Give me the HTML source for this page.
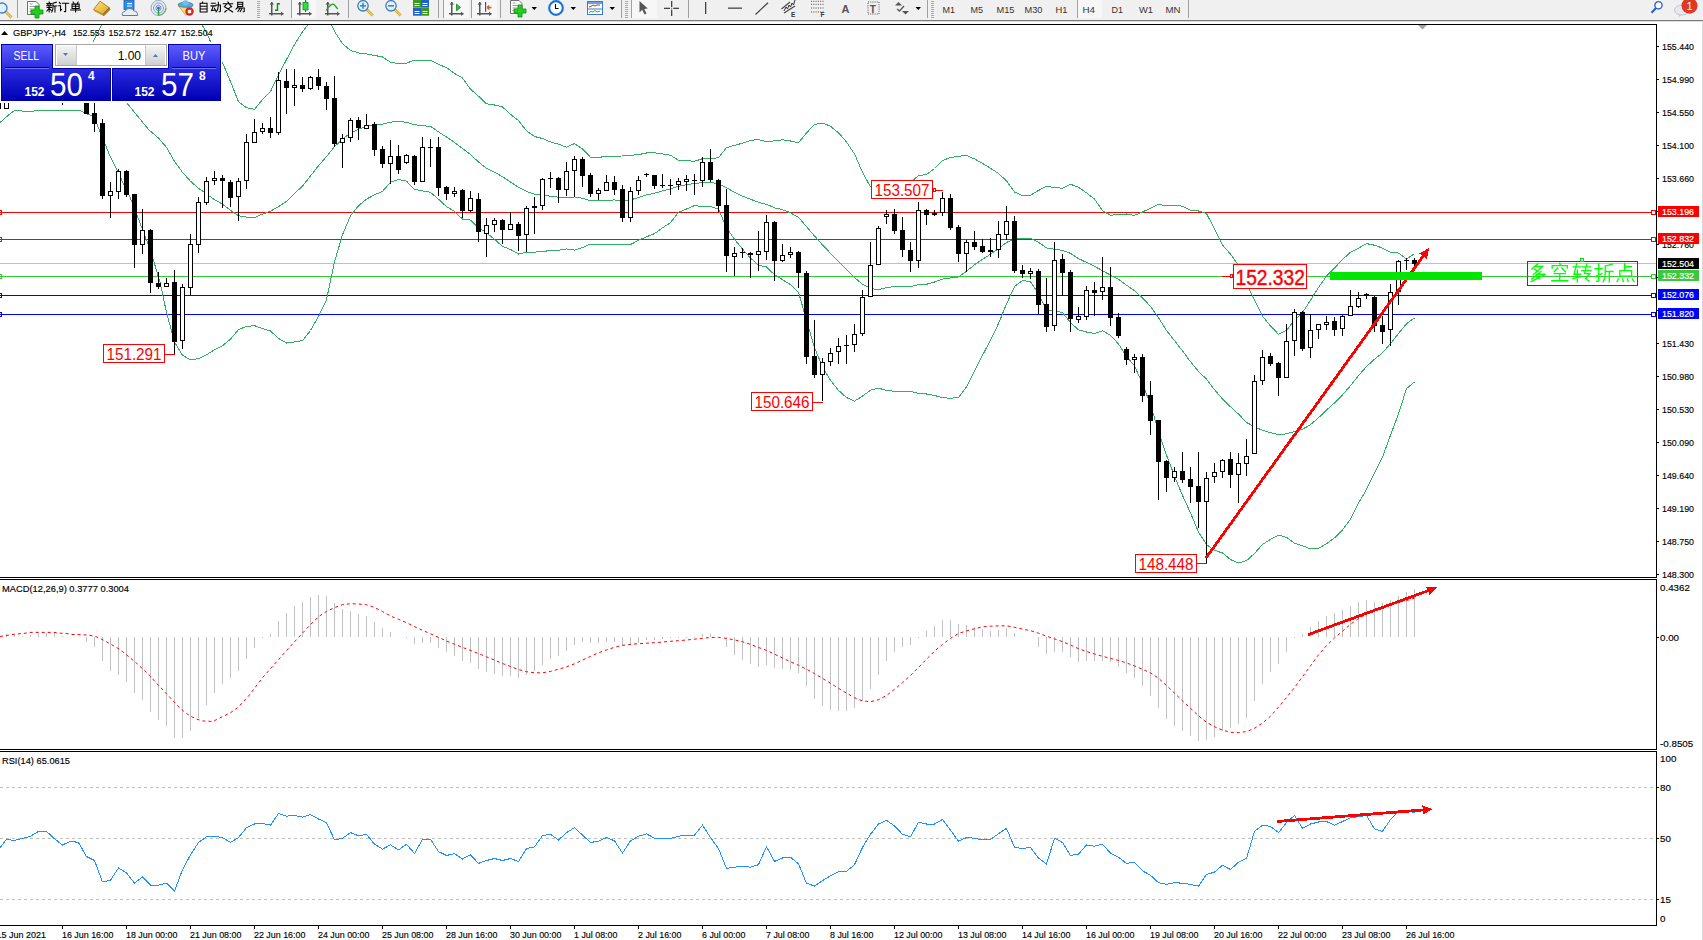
<!DOCTYPE html>
<html><head><meta charset="utf-8"><style>html,body{margin:0;padding:0;width:1703px;height:940px;overflow:hidden;background:#fff}svg{display:block}</style></head>
<body><svg width="1703" height="940" viewBox="0 0 1703 940" font-family='"Liberation Sans", sans-serif'><defs><clipPath id="mainclip"><rect x="0" y="25" width="1656" height="552"/></clipPath></defs><rect width="1703" height="940" fill="#fff"/><rect x="0" y="0" width="1703" height="20" fill="#f0f0f0"/>
<rect x="0" y="20" width="1703" height="1.5" fill="#7a7a7a"/>
<rect x="0" y="21.5" width="1703" height="2.5" fill="#fff"/>
<line x1="5.0" y1="11.0" x2="11.5" y2="17.5" stroke="#c89a20" stroke-width="2.6"/>
<line x1="5.0" y1="11.0" x2="11.5" y2="17.5" stroke="#f0d860" stroke-width="1.2"/>
<circle cx="2" cy="8" r="5" fill="#dff2fb" stroke="#3d7cc4" stroke-width="1.3"/>
<rect x="17" y="0" width="1" height="18" fill="#a0a0a0"/>
<path d="M27.5,1.5 H36 L39,4.5 V14.5 H27.5 Z" fill="#fff" stroke="#707070" stroke-width="1"/>
<rect x="29.5" y="3.5" width="3" height="1" fill="#9a9a9a"/>
<rect x="29.5" y="6.0" width="7" height="1" fill="#9a9a9a"/>
<rect x="29.5" y="8.5" width="6" height="1" fill="#9a9a9a"/>
<rect x="29.5" y="11.0" width="7" height="1" fill="#9a9a9a"/>
<path d="M35,6 h4 v4 h4 v4 h-4 v4 h-4 v-4 h-4 v-4 h4 Z" fill="#20d020" stroke="#109010" stroke-width="0.8"/>
<path transform="translate(46.50,1.80) scale(1.020)" d="M2.5,0.2 L3,1.2 M0.4,1.8 H4.8 M1.2,2.3 L1.7,3.5 M3.9,2.3 L3.4,3.5 M0.2,3.9 H5 M0.6,5.6 H4.8 M2.6,3.9 V10 M2.4,6.6 L0.3,9 M2.9,6.8 L4.6,8.4 M9.6,0.4 L6.3,1.5 M6.3,1.5 V6 Q6.2,8.5 5.2,10 M6.3,4.2 H10 M8.3,4.2 V10" fill="none" stroke="#000" stroke-width="1.029" stroke-linecap="square"/>
<path transform="translate(58.50,1.80) scale(1.020)" d="M0.8,0.6 L1.8,1.8 M0.2,3.9 H2 V8.6 L3.1,7.5 M3.8,1.5 H10 M7,1.5 V9.4 Q7,10 5.8,9.6" fill="none" stroke="#000" stroke-width="1.029" stroke-linecap="square"/>
<path transform="translate(70.50,1.80) scale(1.020)" d="M2.5,0.2 L3.3,1.4 M7.5,0.2 L6.7,1.4 M1.5,2.3 H8.5 V6.6 H1.5 Z M1.5,4.45 H8.5 M5,2.3 V10 M0.2,8.1 H9.8" fill="none" stroke="#000" stroke-width="1.029" stroke-linecap="square"/>
<defs><linearGradient id="gbook" x1="0" y1="0" x2="1" y2="1"><stop offset="0" stop-color="#fbe884"/><stop offset="1" stop-color="#d9a21e"/></linearGradient></defs>
<polygon points="93.5,9.5 100,1.2 109.2,7.6 103,14.2" fill="url(#gbook)" stroke="#b07a18" stroke-width="0.9"/>
<polygon points="103,14.2 109.2,7.6 110,9.5 103.6,16" fill="#b07820" stroke="#8a5a10" stroke-width="0.6"/>
<polygon points="93.5,9.5 103,14.2 103.6,16 94,11" fill="#c89030"/>
<rect x="124" y="0.5" width="10" height="9" fill="#2a8ee8" stroke="#1a60b0" stroke-width="0.8"/>
<rect x="127" y="3" width="5" height="1.2" fill="#fff"/><rect x="127" y="5.5" width="5" height="1.2" fill="#cfe6ff"/>
<path d="M122.5,15.5 Q121.5,11.5 125,11.5 Q126,8 130,8.5 Q133,8.5 134,11 Q138,11 137.5,15.5 Z" fill="#e8eef6" stroke="#6078a8" stroke-width="1"/>
<circle cx="158.5" cy="8" r="7.5" fill="none" stroke="#5a84d0" stroke-width="1" opacity="0.7"/>
<circle cx="158.5" cy="8" r="5" fill="none" stroke="#5a84d0" stroke-width="1" opacity="0.8"/>
<circle cx="158.5" cy="8" r="2.6" fill="none" stroke="#5a84d0" stroke-width="1" opacity="1"/>
<path d="M158.5,8 V15.5" stroke="#20a020" stroke-width="1.3"/><circle cx="158.5" cy="8" r="1.3" fill="#1f5fcf"/>
<path d="M159,15 A7.5,7.5 0 0 0 166,8" fill="none" stroke="#60b060" stroke-width="1.2"/>
<polygon points="178.5,6 192.5,6 186,15.5" fill="#f2df6a" stroke="#c8a030" stroke-width="0.8"/>
<ellipse cx="185.5" cy="4.8" rx="7.5" ry="2.5" fill="#58aee0" stroke="#2a78b0" stroke-width="0.8"/>
<ellipse cx="185.5" cy="2.6" rx="3" ry="2.4" fill="#70c0ec"/>
<circle cx="189.5" cy="11.5" r="4.2" fill="#d92020"/><rect x="187.8" y="9.8" width="3.4" height="3.4" fill="#fff"/>
<path transform="translate(198.50,1.80) scale(1.020)" d="M4.2,0.1 L3.6,1.5 M1.6,1.5 H8.4 V10 H1.6 Z M1.6,4.3 H8.4 M1.6,7.1 H8.4" fill="none" stroke="#000" stroke-width="1.029" stroke-linecap="square"/>
<path transform="translate(210.70,1.80) scale(1.020)" d="M0.6,1.5 H4.5 M0.2,4 H5 M2.6,4 L0.8,8.6 L4.6,8 M3.6,6.4 L4.9,8.9 M5.4,3.2 H9.5 V9 Q9.5,10 8.4,9.7 M7.5,0.4 V3.5 Q7.3,8 5.3,10" fill="none" stroke="#000" stroke-width="1.029" stroke-linecap="square"/>
<path transform="translate(222.90,1.80) scale(1.020)" d="M4.8,0.1 L5.5,1.1 M0.4,2 H9.6 M3.3,2.8 L1.4,4.8 M6.7,2.8 L8.6,4.8 M7.6,5 L1.8,10 M2.4,5.4 L9.6,10" fill="none" stroke="#000" stroke-width="1.029" stroke-linecap="square"/>
<path transform="translate(235.10,1.80) scale(1.020)" d="M2.5,0.4 H7.5 V4.6 H2.5 Z M2.5,2.5 H7.5 M3.2,4.6 L0.9,7.2 M2.5,6 H9 V9 Q9,10 7.9,9.8 M5,6 L2.8,9.6 M7,6 L5.1,9.6" fill="none" stroke="#000" stroke-width="1.029" stroke-linecap="square"/>
<rect x="257" y="1" width="3" height="1" fill="#a8a8a8"/><rect x="257" y="3" width="3" height="1" fill="#a8a8a8"/><rect x="257" y="5" width="3" height="1" fill="#a8a8a8"/><rect x="257" y="7" width="3" height="1" fill="#a8a8a8"/><rect x="257" y="9" width="3" height="1" fill="#a8a8a8"/><rect x="257" y="11" width="3" height="1" fill="#a8a8a8"/><rect x="257" y="13" width="3" height="1" fill="#a8a8a8"/><rect x="257" y="15" width="3" height="1" fill="#a8a8a8"/><rect x="257" y="17" width="3" height="1" fill="#a8a8a8"/>
<rect x="271" y="2" width="1.5" height="13.5" fill="#555"/>
<polygon points="269.5,4.5 271.75,2 274,4.5" fill="#555"/>
<rect x="269" y="13" width="14.5" height="1.5" fill="#555"/>
<polygon points="281.0,11.5 283.5,13.75 281.0,16" fill="#555"/>
<path d="M275,10.3 H277.5 V3.8 H280" fill="none" stroke="#118811" stroke-width="1.4"/>
<rect x="291" y="0" width="1" height="18" fill="#a0a0a0"/>
<rect x="292" y="0" width="24" height="18" fill="#f7f7f7"/>
<rect x="299" y="2" width="1.5" height="13.5" fill="#555"/>
<polygon points="297.5,4.5 299.75,2 302,4.5" fill="#555"/>
<rect x="297" y="13" width="14.5" height="1.5" fill="#555"/>
<polygon points="309.0,11.5 311.5,13.75 309.0,16" fill="#555"/>
<rect x="305" y="0" width="1.2" height="12" fill="#118811"/><rect x="303" y="2.5" width="5" height="7.3" fill="#2ee04a" stroke="#129a2a" stroke-width="0.9"/>
<rect x="327" y="2" width="1.5" height="13.5" fill="#555"/>
<polygon points="325.5,4.5 327.75,2 330,4.5" fill="#555"/>
<rect x="325" y="13" width="14.5" height="1.5" fill="#555"/>
<polygon points="337.0,11.5 339.5,13.75 337.0,16" fill="#555"/>
<path d="M326,10.5 Q332,2 334.5,5 L337.8,9" fill="none" stroke="#2a9a2a" stroke-width="1.2"/>
<rect x="348" y="0" width="1" height="18" fill="#a0a0a0"/>
<line x1="366.12" y1="8.92" x2="372.7" y2="15.5" stroke="#c89a20" stroke-width="2.6"/>
<line x1="366.12" y1="8.92" x2="372.7" y2="15.5" stroke="#f0d860" stroke-width="1.2"/>
<circle cx="363" cy="5.8" r="5.2" fill="#dff2fb" stroke="#3d7cc4" stroke-width="1.3"/>
<rect x="360" y="5.0" width="6" height="1.6" fill="#4a86b8"/><rect x="362.2" y="2.8" width="1.6" height="6" fill="#4a86b8"/>
<line x1="394.12" y1="8.92" x2="400.7" y2="15.5" stroke="#c89a20" stroke-width="2.6"/>
<line x1="394.12" y1="8.92" x2="400.7" y2="15.5" stroke="#f0d860" stroke-width="1.2"/>
<circle cx="391" cy="5.8" r="5.2" fill="#dff2fb" stroke="#3d7cc4" stroke-width="1.3"/>
<rect x="388" y="5.0" width="6" height="1.6" fill="#4a86b8"/>
<rect x="413" y="0" width="8" height="7.7" fill="#3a9a20"/><rect x="414.5" y="3" width="5" height="1" fill="#fff"/><rect x="414.5" y="5" width="5" height="1" fill="#fff"/>
<rect x="421" y="0" width="8" height="7.7" fill="#2060d0"/><rect x="422.5" y="3" width="5" height="1" fill="#fff"/><rect x="422.5" y="5" width="5" height="1" fill="#fff"/>
<rect x="413" y="8" width="8" height="7.7" fill="#2060d0"/><rect x="414.5" y="11" width="5" height="1" fill="#fff"/><rect x="414.5" y="13" width="5" height="1" fill="#fff"/>
<rect x="421" y="8" width="8" height="7.7" fill="#3a9a20"/><rect x="422.5" y="11" width="5" height="1" fill="#fff"/><rect x="422.5" y="13" width="5" height="1" fill="#fff"/>
<rect x="438" y="0" width="1" height="18" fill="#a0a0a0"/>
<rect x="443" y="0" width="1" height="18" fill="#a0a0a0"/>
<rect x="444" y="0" width="25" height="18" fill="#f7f7f7"/>
<rect x="451" y="2" width="1.5" height="13.5" fill="#555"/>
<polygon points="449.5,4.5 451.75,2 454,4.5" fill="#555"/>
<rect x="449" y="13" width="14.5" height="1.5" fill="#555"/>
<polygon points="461.0,11.5 463.5,13.75 461.0,16" fill="#555"/>
<polygon points="456.5,4 460.5,7.5 456.5,10.8" fill="#2cc04a" stroke="#108a20" stroke-width="0.8"/>
<rect x="471" y="0" width="1" height="18" fill="#a0a0a0"/>
<rect x="472" y="0" width="25" height="18" fill="#f7f7f7"/>
<rect x="479" y="2" width="1.5" height="13.5" fill="#555"/>
<polygon points="477.5,4.5 479.75,2 482,4.5" fill="#555"/>
<rect x="477" y="13" width="14.5" height="1.5" fill="#555"/>
<polygon points="489.0,11.5 491.5,13.75 489.0,16" fill="#555"/>
<rect x="485" y="2" width="1.2" height="9.8" fill="#2060a0"/><path d="M487,7.5 H491.5 M487,7.5 L489.3,5.5 M487,7.5 L489.3,9.5" stroke="#e05a10" stroke-width="1.3" fill="none"/>
<rect x="500" y="0" width="1" height="18" fill="#a0a0a0"/>
<path d="M510.5,0.5 H519 L522,3.5 V13.5 H510.5 Z" fill="#fff" stroke="#707070" stroke-width="1"/>
<rect x="512.5" y="2.5" width="3" height="1" fill="#9a9a9a"/>
<rect x="512.5" y="5.0" width="7" height="1" fill="#9a9a9a"/>
<rect x="512.5" y="7.5" width="6" height="1" fill="#9a9a9a"/>
<rect x="512.5" y="10.0" width="7" height="1" fill="#9a9a9a"/>
<path d="M518,5 h4 v4 h4 v4 h-4 v4 h-4 v-4 h-4 v-4 h4 Z" fill="#20d020" stroke="#109010" stroke-width="0.8"/>
<polygon points="531.5,7 537.0,7 534.25,10" fill="#000"/>
<circle cx="556" cy="8" r="6.8" fill="#fff" stroke="#1a76d8" stroke-width="2.2"/><path d="M555.5,4 V8.5 H558.5" stroke="#000" stroke-width="1.1" fill="none"/>
<polygon points="570.5,7 576.0,7 573.25,10" fill="#000"/>
<rect x="587.5" y="1.5" width="15" height="13" fill="#fff" stroke="#3a7ad0" stroke-width="1"/><rect x="588" y="2" width="14" height="2" fill="#6aa0e8"/><rect x="588" y="8.5" width="14" height="1" fill="#3a7ad0"/>
<path d="M589,7 L591,6.5 L593,5 L595,6 L597,5 L600,5" stroke="#b02010" stroke-width="0.9" fill="none"/><path d="M589,12.5 L591,11.5 L593,12 L595,10.5 L597,12 L600,11" stroke="#20a020" stroke-width="0.9" fill="none"/>
<polygon points="609.5,7 615.0,7 612.25,10" fill="#000"/>
<rect x="621" y="0" width="1" height="18" fill="#a0a0a0"/>
<rect x="625" y="1" width="3" height="1" fill="#a8a8a8"/><rect x="625" y="3" width="3" height="1" fill="#a8a8a8"/><rect x="625" y="5" width="3" height="1" fill="#a8a8a8"/><rect x="625" y="7" width="3" height="1" fill="#a8a8a8"/><rect x="625" y="9" width="3" height="1" fill="#a8a8a8"/><rect x="625" y="11" width="3" height="1" fill="#a8a8a8"/><rect x="625" y="13" width="3" height="1" fill="#a8a8a8"/><rect x="625" y="15" width="3" height="1" fill="#a8a8a8"/><rect x="625" y="17" width="3" height="1" fill="#a8a8a8"/>
<rect x="631" y="0" width="1" height="18" fill="#a0a0a0"/>
<rect x="632" y="0" width="25" height="18" fill="#f7f7f7"/>
<polygon points="639.5,1 639.5,12.5 642.2,9.8 644.5,14.5 646.5,13.6 644.2,8.9 647.8,8.6" fill="#555"/>
<rect x="671" y="1" width="1.3" height="15" fill="#444"/><rect x="664" y="7.7" width="15" height="1.3" fill="#444"/><rect x="670" y="7" width="3.3" height="2.6" fill="#f0f0f0"/><rect x="671" y="7.7" width="1.3" height="1.3" fill="#888"/>
<rect x="688" y="0" width="1" height="18" fill="#a0a0a0"/>
<rect x="705" y="2" width="1.3" height="12" fill="#444"/>
<rect x="728" y="7.5" width="14" height="1.3" fill="#444"/>
<line x1="755.5" y1="14.5" x2="768" y2="2.8" stroke="#444" stroke-width="1.2"/>
<line x1="781.5" y1="9" x2="790" y2="2" stroke="#444" stroke-width="1.1"/><line x1="784" y1="13" x2="795" y2="6" stroke="#444" stroke-width="1.1"/><path d="M784,11 L786,7 L787.5,9 L789,5 L790.5,7 L792,3 L793.5,5 L795,0" stroke="#333" stroke-width="1" fill="none"/>
<text x="791" y="17" font-size="6.5" font-weight="bold" fill="#333">E</text>
<line x1="811" y1="1.3" x2="824" y2="1.3" stroke="#444" stroke-width="1" stroke-dasharray="1,1.3"/>
<line x1="811" y1="4.3" x2="824" y2="4.3" stroke="#444" stroke-width="1" stroke-dasharray="1,1.3"/>
<line x1="811" y1="8" x2="824" y2="8" stroke="#444" stroke-width="1" stroke-dasharray="1,1.3"/>
<line x1="811" y1="12" x2="824" y2="12" stroke="#444" stroke-width="1" stroke-dasharray="1,1.3"/>
<text x="820.5" y="17" font-size="6.5" font-weight="bold" fill="#333">F</text>
<text x="841.5" y="13" font-size="11" font-weight="bold" fill="#555">A</text>
<rect x="868" y="2" width="11" height="12" fill="none" stroke="#555" stroke-width="1" stroke-dasharray="1,1.2"/><text x="869.8" y="12.5" font-size="10" font-weight="bold" fill="#555">T</text>
<polygon points="895,5.5 898.5,2 902,5.5" fill="#555"/><path d="M897,9 L899.5,11 L904,6" stroke="#555" stroke-width="1.3" fill="none"/><polygon points="902,11 909,11 905.5,14.5" fill="#555"/>
<polygon points="915.5,7 921.0,7 918.25,10" fill="#000"/>
<rect x="927" y="0" width="1" height="18" fill="#a0a0a0"/>
<rect x="931" y="1" width="3" height="1" fill="#a8a8a8"/><rect x="931" y="3" width="3" height="1" fill="#a8a8a8"/><rect x="931" y="5" width="3" height="1" fill="#a8a8a8"/><rect x="931" y="7" width="3" height="1" fill="#a8a8a8"/><rect x="931" y="9" width="3" height="1" fill="#a8a8a8"/><rect x="931" y="11" width="3" height="1" fill="#a8a8a8"/><rect x="931" y="13" width="3" height="1" fill="#a8a8a8"/><rect x="931" y="15" width="3" height="1" fill="#a8a8a8"/><rect x="931" y="17" width="3" height="1" fill="#a8a8a8"/>
<text x="942.5" y="12.5" font-size="9.6" fill="#333" textLength="12.5" lengthAdjust="spacingAndGlyphs">M1</text>
<text x="970.5" y="12.5" font-size="9.6" fill="#333" textLength="12.5" lengthAdjust="spacingAndGlyphs">M5</text>
<text x="996.5" y="12.5" font-size="9.6" fill="#333" textLength="18.0" lengthAdjust="spacingAndGlyphs">M15</text>
<text x="1024.5" y="12.5" font-size="9.6" fill="#333" textLength="18.0" lengthAdjust="spacingAndGlyphs">M30</text>
<text x="1055.5" y="12.5" font-size="9.6" fill="#333" textLength="12.0" lengthAdjust="spacingAndGlyphs">H1</text>
<rect x="1078" y="0" width="24" height="18" fill="#f7f7f7"/>
<text x="1082.5" y="12.5" font-size="9.6" fill="#333" textLength="12.5" lengthAdjust="spacingAndGlyphs">H4</text>
<text x="1111.5" y="12.5" font-size="9.6" fill="#333" textLength="11.5" lengthAdjust="spacingAndGlyphs">D1</text>
<text x="1139" y="12.5" font-size="9.6" fill="#333" textLength="14" lengthAdjust="spacingAndGlyphs">W1</text>
<text x="1165.5" y="12.5" font-size="9.6" fill="#333" textLength="15.0" lengthAdjust="spacingAndGlyphs">MN</text>
<rect x="1077" y="0" width="1" height="18" fill="#a0a0a0"/>
<rect x="1188" y="0" width="1" height="18" fill="#a0a0a0"/>
<circle cx="1658.5" cy="5.3" r="3.6" fill="#fff" stroke="#2a5ad8" stroke-width="1.3"/><line x1="1656" y1="8" x2="1651.5" y2="12.8" stroke="#2a5ad8" stroke-width="2"/>
<ellipse cx="1682" cy="10" rx="7.5" ry="5" fill="#e6e8ee" stroke="#b8bcc4" stroke-width="0.8"/><polygon points="1678,14 1679,17 1682,14.5" fill="#c8ccd4"/>
<circle cx="1689.5" cy="5.7" r="8" fill="#dc3a22"/><text x="1689.5" y="10" font-size="11" fill="#fff" text-anchor="middle">1</text><rect x="0" y="263" width="1656" height="1" fill="#c0c0c0"/>
<rect x="0" y="212" width="1651" height="1" fill="#ff0000"/>
<rect x="-2.5" y="210.5" width="4" height="4" fill="none" stroke="#ff0000" stroke-width="1"/>
<rect x="1651.5" y="210.5" width="4" height="4" fill="#fff" stroke="#ff0000" stroke-width="1"/>
<rect x="0" y="239" width="1651" height="1" fill="#ff0000"/>
<rect x="-2.5" y="237.5" width="4" height="4" fill="none" stroke="#ff0000" stroke-width="1"/>
<rect x="1651.5" y="237.5" width="4" height="4" fill="#fff" stroke="#ff0000" stroke-width="1"/>
<rect x="0" y="276" width="1651" height="1" fill="#32cd32"/>
<rect x="-2.5" y="274.5" width="4" height="4" fill="none" stroke="#32cd32" stroke-width="1"/>
<rect x="1651.5" y="274.5" width="4" height="4" fill="#fff" stroke="#32cd32" stroke-width="1"/>
<rect x="0" y="295" width="1651" height="1" fill="#0000ff"/>
<rect x="-2.5" y="293.5" width="4" height="4" fill="none" stroke="#0000ff" stroke-width="1"/>
<rect x="1651.5" y="293.5" width="4" height="4" fill="#fff" stroke="#0000ff" stroke-width="1"/>
<rect x="0" y="314" width="1651" height="1" fill="#0000ff"/>
<rect x="-2.5" y="312.5" width="4" height="4" fill="none" stroke="#0000ff" stroke-width="1"/>
<rect x="1651.5" y="312.5" width="4" height="4" fill="#fff" stroke="#0000ff" stroke-width="1"/><g clip-path="url(#mainclip)"><polyline points="0.0,122.5 8.0,115.5 14.0,110.8 19.0,110.8 26.0,111.3 40.0,110.8 60.0,110.8 80.0,110.5 94.0,117.0 110.0,156.0 130.0,197.0 150.0,249.0 160.0,282.0 166.5,312.4 174.5,341.9 182.5,355.3 190.5,359.8 198.5,358.6 206.5,354.9 214.5,349.6 222.5,345.8 230.5,339.1 238.5,329.6 246.5,326.5 254.5,325.6 262.5,328.7 270.5,330.9 278.5,338.5 286.5,343.0 294.5,342.0 302.5,340.6 310.5,330.5 318.5,316.5 326.5,299.7 334.5,261.9 342.5,234.7 350.5,215.7 358.5,205.8 366.5,199.1 374.5,194.8 382.5,191.4 390.5,182.2 398.5,179.4 406.5,181.2 414.5,189.3 422.5,191.0 430.5,192.3 438.5,199.2 446.5,206.6 454.5,211.5 462.5,219.1 470.5,220.1 478.5,227.7 486.5,232.8 494.5,239.3 502.5,246.4 510.5,249.5 518.5,254.0 526.5,252.1 534.5,252.1 542.5,251.6 550.5,250.4 558.5,250.2 566.5,248.9 574.5,250.1 582.5,247.5 590.5,244.0 598.5,244.0 606.5,244.0 614.5,244.0 622.5,244.8 630.5,244.6 638.5,240.2 646.5,236.8 654.5,233.6 662.5,227.9 670.5,222.6 678.5,212.3 686.5,209.0 694.5,205.6 702.5,206.5 710.5,206.6 718.5,209.2 726.5,227.7 734.5,239.3 742.5,249.1 750.5,258.0 758.5,265.1 766.5,267.0 774.5,274.7 782.5,279.7 790.5,284.6 798.5,292.2 806.5,320.2 814.5,347.7 822.5,366.7 830.5,380.4 838.5,390.3 846.5,397.6 854.5,401.1 862.5,396.1 870.5,390.2 878.5,388.1 886.5,390.5 894.5,391.3 902.5,391.3 910.5,391.3 918.5,393.4 926.5,394.0 934.5,395.4 942.5,397.8 950.5,398.2 958.5,397.6 966.5,387.0 974.5,370.7 982.5,355.3 990.5,340.1 998.5,323.6 1006.5,303.9 1014.5,286.6 1022.5,280.5 1030.5,281.6 1038.5,293.9 1046.5,309.7 1054.5,310.8 1062.5,312.7 1070.5,322.5 1078.5,329.9 1086.5,332.0 1094.5,333.5 1102.5,330.7 1110.5,335.2 1118.5,344.0 1126.5,356.3 1134.5,365.9 1142.5,383.7 1150.5,404.6 1158.5,431.4 1166.5,455.1 1174.5,476.1 1182.5,495.5 1190.5,512.9 1198.5,532.0 1206.5,544.5 1214.5,550.3 1222.5,553.0 1230.5,559.6 1238.5,562.9 1246.5,560.7 1254.5,553.4 1262.5,544.5 1270.5,539.3 1278.5,535.2 1286.5,537.3 1294.5,543.3 1302.5,545.7 1310.5,549.0 1318.5,548.2 1326.5,543.8 1334.5,537.9 1342.5,529.9 1350.5,519.2 1358.5,503.1 1366.5,489.4 1374.5,473.2 1382.5,457.4 1390.5,435.1 1398.5,414.0 1406.5,388.5 1414.5,382.0" fill="none" stroke="#2eaf64" stroke-width="1" shape-rendering="crispEdges"/>
<polyline points="120.0,95.0 126.0,102.0 149.0,130.0 158.5,138.1 166.5,147.4 174.5,161.3 182.5,172.4 190.5,181.3 198.5,188.2 206.5,194.0 214.5,199.6 222.5,204.2 230.5,210.4 238.5,215.7 246.5,217.1 254.5,217.5 262.5,214.1 270.5,211.2 278.5,206.6 286.5,201.3 294.5,193.3 302.5,186.2 310.5,175.9 318.5,165.8 326.5,156.6 334.5,146.7 342.5,139.2 350.5,133.0 358.5,129.3 366.5,126.5 374.5,125.1 382.5,124.2 390.5,122.1 398.5,121.5 406.5,122.2 414.5,124.7 422.5,125.7 430.5,126.4 438.5,131.8 446.5,137.1 454.5,142.4 462.5,148.6 470.5,154.6 478.5,162.0 486.5,168.3 494.5,172.1 502.5,176.7 510.5,181.9 518.5,187.3 526.5,191.4 534.5,194.3 542.5,195.1 550.5,196.2 558.5,197.2 566.5,198.0 574.5,196.9 582.5,198.3 590.5,200.6 598.5,200.7 606.5,200.1 614.5,200.0 622.5,200.4 630.5,200.0 638.5,197.4 646.5,194.9 654.5,193.2 662.5,190.9 670.5,189.0 678.5,186.2 686.5,184.8 694.5,183.5 702.5,182.6 710.5,182.7 718.5,183.5 726.5,187.7 734.5,192.3 742.5,196.2 750.5,199.2 758.5,202.3 766.5,204.3 774.5,207.8 782.5,209.7 790.5,212.8 798.5,217.4 806.5,226.6 814.5,236.0 822.5,244.9 830.5,253.3 838.5,261.5 846.5,269.8 854.5,277.5 862.5,284.3 870.5,288.5 878.5,289.7 886.5,287.6 894.5,286.5 902.5,286.4 910.5,286.7 918.5,284.6 926.5,284.3 934.5,282.0 942.5,279.1 950.5,277.9 958.5,277.0 966.5,271.2 974.5,264.8 982.5,259.3 990.5,254.2 998.5,248.6 1006.5,242.4 1014.5,239.3 1022.5,238.1 1030.5,238.4 1038.5,242.2 1046.5,247.9 1054.5,249.3 1062.5,250.4 1070.5,253.4 1078.5,258.6 1086.5,262.4 1094.5,266.3 1102.5,270.7 1110.5,275.2 1118.5,279.3 1126.5,285.2 1134.5,290.7 1142.5,297.9 1150.5,306.4 1158.5,317.7 1166.5,330.5 1174.5,340.6 1182.5,350.9 1190.5,361.7 1198.5,371.5 1206.5,379.0 1214.5,389.7 1222.5,399.0 1230.5,406.8 1238.5,414.1 1246.5,422.4 1254.5,426.8 1262.5,430.3 1270.5,432.6 1278.5,434.7 1286.5,433.8 1294.5,431.6 1302.5,429.2 1310.5,424.7 1318.5,417.8 1326.5,410.0 1334.5,402.9 1342.5,394.8 1350.5,385.7 1358.5,375.6 1366.5,366.5 1374.5,359.2 1382.5,352.8 1390.5,343.6 1398.5,333.5 1406.5,323.8 1414.5,317.9" fill="none" stroke="#2eaf64" stroke-width="1" shape-rendering="crispEdges"/>
<polyline points="90.0,48.0 102.0,24.0" fill="none" stroke="#2eaf64" stroke-width="1" shape-rendering="crispEdges"/>
<polyline points="158.5,-15.8 166.5,-17.5 174.5,-19.3 182.5,-10.5 190.5,2.9 198.5,17.7 206.5,33.1 214.5,49.7 222.5,62.5 230.5,81.6 238.5,101.8 246.5,107.7 254.5,109.4 262.5,99.5 270.5,91.5 278.5,74.8 286.5,59.6 294.5,44.5 302.5,31.8 310.5,21.2 318.5,15.2 326.5,13.4 334.5,31.4 342.5,43.7 350.5,50.4 358.5,52.9 366.5,53.9 374.5,55.4 382.5,57.0 390.5,62.1 398.5,63.6 406.5,63.1 414.5,60.1 422.5,60.3 430.5,60.4 438.5,64.4 446.5,67.6 454.5,73.4 462.5,78.0 470.5,89.2 478.5,96.2 486.5,103.8 494.5,105.0 502.5,106.9 510.5,114.3 518.5,120.6 526.5,130.8 534.5,136.5 542.5,138.5 550.5,141.9 558.5,144.2 566.5,147.2 574.5,143.6 582.5,149.0 590.5,157.2 598.5,157.5 606.5,156.2 614.5,156.1 622.5,156.0 630.5,155.4 638.5,154.6 646.5,153.0 654.5,152.7 662.5,154.0 670.5,155.3 678.5,160.2 686.5,160.6 694.5,161.3 702.5,158.7 710.5,158.8 718.5,157.7 726.5,147.6 734.5,145.4 742.5,143.2 750.5,140.5 758.5,139.5 766.5,141.6 774.5,140.9 782.5,139.8 790.5,141.0 798.5,142.7 806.5,133.0 814.5,124.4 822.5,123.1 830.5,126.2 838.5,132.8 846.5,142.0 854.5,153.9 862.5,172.4 870.5,186.9 878.5,191.3 886.5,184.7 894.5,181.7 902.5,181.5 910.5,182.1 918.5,175.8 926.5,174.5 934.5,168.5 942.5,160.4 950.5,157.6 958.5,156.3 966.5,155.5 974.5,158.9 982.5,163.3 990.5,168.3 998.5,173.5 1006.5,180.9 1014.5,192.0 1022.5,195.7 1030.5,195.1 1038.5,190.5 1046.5,186.1 1054.5,187.8 1062.5,188.1 1070.5,184.2 1078.5,187.3 1086.5,192.8 1094.5,199.1 1102.5,210.7 1110.5,215.2 1118.5,214.6 1126.5,214.0 1134.5,215.4 1142.5,212.0 1150.5,208.2 1158.5,204.1 1166.5,206.0 1174.5,205.1 1182.5,206.3 1190.5,210.4 1198.5,211.0 1206.5,213.6 1214.5,229.0 1222.5,245.0 1230.5,254.0 1238.5,265.4 1246.5,284.2 1254.5,300.3 1262.5,316.1 1270.5,326.0 1278.5,334.3 1286.5,330.4 1294.5,319.9 1302.5,312.7 1310.5,300.3 1318.5,287.4 1326.5,276.2 1334.5,268.0 1342.5,259.6 1350.5,252.2 1358.5,248.1 1366.5,243.6 1374.5,245.2 1382.5,248.1 1390.5,252.2 1398.5,253.1 1406.5,259.0 1414.5,253.8" fill="none" stroke="#2eaf64" stroke-width="1" shape-rendering="crispEdges"/></g><g fill="#000" shape-rendering="crispEdges"><rect x="-2" y="80" width="1" height="29"/>
<rect x="-4" y="85" width="5" height="24"/>
<rect x="-3" y="86" width="3" height="22" fill="#fff"/>
<rect x="6" y="92" width="1" height="17"/>
<rect x="4" y="96" width="5" height="13"/>
<rect x="5" y="97" width="3" height="11" fill="#fff"/>
<rect x="14" y="60" width="1" height="20"/>
<rect x="12" y="65" width="5" height="10"/>
<rect x="13" y="66" width="3" height="8" fill="#fff"/>
<rect x="22" y="60" width="1" height="20"/>
<rect x="20" y="65" width="5" height="10"/>
<rect x="21" y="66" width="3" height="8" fill="#fff"/>
<rect x="30" y="60" width="1" height="20"/>
<rect x="28" y="65" width="5" height="10"/>
<rect x="29" y="66" width="3" height="8" fill="#fff"/>
<rect x="38" y="60" width="1" height="20"/>
<rect x="36" y="65" width="5" height="10"/>
<rect x="37" y="66" width="3" height="8" fill="#fff"/>
<rect x="46" y="60" width="1" height="20"/>
<rect x="44" y="65" width="5" height="10"/>
<rect x="45" y="66" width="3" height="8" fill="#fff"/>
<rect x="54" y="60" width="1" height="20"/>
<rect x="52" y="65" width="5" height="10"/>
<rect x="53" y="66" width="3" height="8" fill="#fff"/>
<rect x="62" y="70" width="1" height="35"/>
<rect x="60" y="75" width="5" height="15"/>
<rect x="70" y="70" width="1" height="20"/>
<rect x="68" y="75" width="5" height="10"/>
<rect x="69" y="76" width="3" height="8" fill="#fff"/>
<rect x="78" y="70" width="1" height="25"/>
<rect x="76" y="75" width="5" height="15"/>
<rect x="77" y="76" width="3" height="13" fill="#fff"/>
<rect x="86" y="85" width="1" height="29"/>
<rect x="84" y="90" width="5" height="24"/>
<rect x="94" y="100" width="1" height="32"/>
<rect x="92" y="113" width="5" height="11"/>
<rect x="102" y="119" width="1" height="80"/>
<rect x="100" y="123" width="5" height="73"/>
<rect x="110" y="182" width="1" height="36"/>
<rect x="108" y="191" width="5" height="5"/>
<rect x="109" y="192" width="3" height="3" fill="#fff"/>
<rect x="118" y="169" width="1" height="30"/>
<rect x="116" y="171" width="5" height="21"/>
<rect x="117" y="172" width="3" height="19" fill="#fff"/>
<rect x="126" y="170" width="1" height="27"/>
<rect x="124" y="171" width="5" height="24"/>
<rect x="134" y="194" width="1" height="74"/>
<rect x="132" y="194" width="5" height="51"/>
<rect x="142" y="209" width="1" height="45"/>
<rect x="140" y="230" width="5" height="15"/>
<rect x="141" y="231" width="3" height="13" fill="#fff"/>
<rect x="150" y="229" width="1" height="64"/>
<rect x="148" y="230" width="5" height="53"/>
<rect x="158" y="272" width="1" height="17"/>
<rect x="156" y="283" width="5" height="4"/>
<rect x="166" y="278" width="1" height="9"/>
<rect x="164" y="283" width="5" height="4"/>
<rect x="165" y="284" width="3" height="2" fill="#fff"/>
<rect x="174" y="270" width="1" height="84"/>
<rect x="172" y="282" width="5" height="60"/>
<rect x="182" y="284" width="1" height="65"/>
<rect x="180" y="287" width="5" height="54"/>
<rect x="181" y="288" width="3" height="52" fill="#fff"/>
<rect x="190" y="234" width="1" height="61"/>
<rect x="188" y="244" width="5" height="44"/>
<rect x="189" y="245" width="3" height="42" fill="#fff"/>
<rect x="198" y="197" width="1" height="56"/>
<rect x="196" y="202" width="5" height="43"/>
<rect x="197" y="203" width="3" height="41" fill="#fff"/>
<rect x="206" y="177" width="1" height="28"/>
<rect x="204" y="181" width="5" height="22"/>
<rect x="205" y="182" width="3" height="20" fill="#fff"/>
<rect x="214" y="171" width="1" height="14"/>
<rect x="212" y="178" width="5" height="3"/>
<rect x="213" y="179" width="3" height="1" fill="#fff"/>
<rect x="222" y="175" width="1" height="33"/>
<rect x="220" y="178" width="5" height="3"/>
<rect x="230" y="180" width="1" height="27"/>
<rect x="228" y="182" width="5" height="16"/>
<rect x="238" y="178" width="1" height="43"/>
<rect x="236" y="181" width="5" height="16"/>
<rect x="237" y="182" width="3" height="14" fill="#fff"/>
<rect x="246" y="134" width="1" height="55"/>
<rect x="244" y="142" width="5" height="39"/>
<rect x="245" y="143" width="3" height="37" fill="#fff"/>
<rect x="254" y="119" width="1" height="24"/>
<rect x="252" y="132" width="5" height="11"/>
<rect x="253" y="133" width="3" height="9" fill="#fff"/>
<rect x="262" y="123" width="1" height="11"/>
<rect x="260" y="128" width="5" height="4"/>
<rect x="261" y="129" width="3" height="2" fill="#fff"/>
<rect x="270" y="117" width="1" height="21"/>
<rect x="268" y="128" width="5" height="5"/>
<rect x="278" y="72" width="1" height="63"/>
<rect x="276" y="80" width="5" height="53"/>
<rect x="277" y="81" width="3" height="51" fill="#fff"/>
<rect x="286" y="69" width="1" height="45"/>
<rect x="284" y="81" width="5" height="7"/>
<rect x="294" y="69" width="1" height="37"/>
<rect x="292" y="85" width="5" height="3"/>
<rect x="293" y="86" width="3" height="1" fill="#fff"/>
<rect x="302" y="77" width="1" height="15"/>
<rect x="300" y="85" width="5" height="4"/>
<rect x="310" y="76" width="1" height="14"/>
<rect x="308" y="77" width="5" height="12"/>
<rect x="309" y="78" width="3" height="10" fill="#fff"/>
<rect x="318" y="69" width="1" height="21"/>
<rect x="316" y="77" width="5" height="9"/>
<rect x="326" y="82" width="1" height="28"/>
<rect x="324" y="86" width="5" height="13"/>
<rect x="334" y="76" width="1" height="71"/>
<rect x="332" y="98" width="5" height="46"/>
<rect x="342" y="134" width="1" height="34"/>
<rect x="340" y="138" width="5" height="5"/>
<rect x="341" y="139" width="3" height="3" fill="#fff"/>
<rect x="350" y="118" width="1" height="24"/>
<rect x="348" y="120" width="5" height="18"/>
<rect x="349" y="121" width="3" height="16" fill="#fff"/>
<rect x="358" y="117" width="1" height="23"/>
<rect x="356" y="120" width="5" height="8"/>
<rect x="366" y="114" width="1" height="15"/>
<rect x="364" y="125" width="5" height="4"/>
<rect x="365" y="126" width="3" height="2" fill="#fff"/>
<rect x="374" y="122" width="1" height="34"/>
<rect x="372" y="124" width="5" height="26"/>
<rect x="382" y="146" width="1" height="22"/>
<rect x="380" y="149" width="5" height="15"/>
<rect x="390" y="140" width="1" height="44"/>
<rect x="388" y="156" width="5" height="8"/>
<rect x="389" y="157" width="3" height="6" fill="#fff"/>
<rect x="398" y="145" width="1" height="29"/>
<rect x="396" y="156" width="5" height="14"/>
<rect x="406" y="154" width="1" height="10"/>
<rect x="404" y="155" width="5" height="8"/>
<rect x="405" y="156" width="3" height="6" fill="#fff"/>
<rect x="414" y="155" width="1" height="30"/>
<rect x="412" y="156" width="5" height="26"/>
<rect x="422" y="137" width="1" height="45"/>
<rect x="420" y="147" width="5" height="35"/>
<rect x="421" y="148" width="3" height="33" fill="#fff"/>
<rect x="430" y="139" width="1" height="28"/>
<rect x="428" y="147" width="5" height="1"/>
<rect x="438" y="137" width="1" height="59"/>
<rect x="436" y="147" width="5" height="41"/>
<rect x="446" y="186" width="1" height="14"/>
<rect x="444" y="187" width="5" height="7"/>
<rect x="454" y="187" width="1" height="10"/>
<rect x="452" y="191" width="5" height="3"/>
<rect x="453" y="192" width="3" height="1" fill="#fff"/>
<rect x="462" y="189" width="1" height="29"/>
<rect x="460" y="190" width="5" height="21"/>
<rect x="470" y="191" width="1" height="21"/>
<rect x="468" y="198" width="5" height="13"/>
<rect x="469" y="199" width="3" height="11" fill="#fff"/>
<rect x="478" y="193" width="1" height="49"/>
<rect x="476" y="199" width="5" height="33"/>
<rect x="486" y="218" width="1" height="39"/>
<rect x="484" y="225" width="5" height="9"/>
<rect x="485" y="226" width="3" height="7" fill="#fff"/>
<rect x="494" y="218" width="1" height="14"/>
<rect x="492" y="220" width="5" height="5"/>
<rect x="493" y="221" width="3" height="3" fill="#fff"/>
<rect x="502" y="219" width="1" height="25"/>
<rect x="500" y="220" width="5" height="10"/>
<rect x="510" y="212" width="1" height="18"/>
<rect x="508" y="224" width="5" height="6"/>
<rect x="509" y="225" width="3" height="4" fill="#fff"/>
<rect x="518" y="222" width="1" height="29"/>
<rect x="516" y="224" width="5" height="12"/>
<rect x="526" y="206" width="1" height="46"/>
<rect x="524" y="208" width="5" height="27"/>
<rect x="525" y="209" width="3" height="25" fill="#fff"/>
<rect x="534" y="197" width="1" height="37"/>
<rect x="532" y="206" width="5" height="2"/>
<rect x="542" y="178" width="1" height="32"/>
<rect x="540" y="179" width="5" height="27"/>
<rect x="541" y="180" width="3" height="25" fill="#fff"/>
<rect x="550" y="172" width="1" height="16"/>
<rect x="548" y="178" width="5" height="1"/>
<rect x="558" y="177" width="1" height="26"/>
<rect x="556" y="178" width="5" height="12"/>
<rect x="566" y="162" width="1" height="34"/>
<rect x="564" y="171" width="5" height="19"/>
<rect x="565" y="172" width="3" height="17" fill="#fff"/>
<rect x="574" y="156" width="1" height="41"/>
<rect x="572" y="159" width="5" height="12"/>
<rect x="573" y="160" width="3" height="10" fill="#fff"/>
<rect x="582" y="157" width="1" height="30"/>
<rect x="580" y="159" width="5" height="17"/>
<rect x="590" y="173" width="1" height="24"/>
<rect x="588" y="175" width="5" height="19"/>
<rect x="598" y="188" width="1" height="12"/>
<rect x="596" y="190" width="5" height="4"/>
<rect x="597" y="191" width="3" height="2" fill="#fff"/>
<rect x="606" y="175" width="1" height="16"/>
<rect x="604" y="182" width="5" height="9"/>
<rect x="605" y="183" width="3" height="7" fill="#fff"/>
<rect x="614" y="176" width="1" height="19"/>
<rect x="612" y="182" width="5" height="8"/>
<rect x="622" y="185" width="1" height="37"/>
<rect x="620" y="189" width="5" height="29"/>
<rect x="630" y="187" width="1" height="35"/>
<rect x="628" y="191" width="5" height="27"/>
<rect x="629" y="192" width="3" height="25" fill="#fff"/>
<rect x="638" y="176" width="1" height="19"/>
<rect x="636" y="180" width="5" height="11"/>
<rect x="637" y="181" width="3" height="9" fill="#fff"/>
<rect x="646" y="173" width="1" height="4"/>
<rect x="644" y="174" width="5" height="1"/>
<rect x="654" y="175" width="1" height="14"/>
<rect x="652" y="175" width="5" height="11"/>
<rect x="662" y="174" width="1" height="14"/>
<rect x="660" y="185" width="5" height="1"/>
<rect x="670" y="179" width="1" height="16"/>
<rect x="668" y="185" width="5" height="1"/>
<rect x="678" y="178" width="1" height="12"/>
<rect x="676" y="181" width="5" height="4"/>
<rect x="677" y="182" width="3" height="2" fill="#fff"/>
<rect x="686" y="175" width="1" height="16"/>
<rect x="684" y="179" width="5" height="3"/>
<rect x="685" y="180" width="3" height="1" fill="#fff"/>
<rect x="694" y="174" width="1" height="21"/>
<rect x="692" y="180" width="5" height="1"/>
<rect x="702" y="157" width="1" height="30"/>
<rect x="700" y="162" width="5" height="19"/>
<rect x="701" y="163" width="3" height="17" fill="#fff"/>
<rect x="710" y="149" width="1" height="33"/>
<rect x="708" y="162" width="5" height="18"/>
<rect x="718" y="179" width="1" height="33"/>
<rect x="716" y="180" width="5" height="26"/>
<rect x="726" y="189" width="1" height="83"/>
<rect x="724" y="205" width="5" height="51"/>
<rect x="734" y="247" width="1" height="29"/>
<rect x="732" y="253" width="5" height="4"/>
<rect x="733" y="254" width="3" height="2" fill="#fff"/>
<rect x="742" y="248" width="1" height="10"/>
<rect x="740" y="252" width="5" height="1"/>
<rect x="750" y="252" width="1" height="26"/>
<rect x="748" y="253" width="5" height="2"/>
<rect x="758" y="231" width="1" height="40"/>
<rect x="756" y="251" width="5" height="4"/>
<rect x="757" y="252" width="3" height="2" fill="#fff"/>
<rect x="766" y="215" width="1" height="45"/>
<rect x="764" y="222" width="5" height="30"/>
<rect x="765" y="223" width="3" height="28" fill="#fff"/>
<rect x="774" y="221" width="1" height="60"/>
<rect x="772" y="222" width="5" height="39"/>
<rect x="782" y="244" width="1" height="18"/>
<rect x="780" y="255" width="5" height="6"/>
<rect x="781" y="256" width="3" height="4" fill="#fff"/>
<rect x="790" y="247" width="1" height="11"/>
<rect x="788" y="252" width="5" height="3"/>
<rect x="789" y="253" width="3" height="1" fill="#fff"/>
<rect x="798" y="251" width="1" height="37"/>
<rect x="796" y="252" width="5" height="21"/>
<rect x="806" y="271" width="1" height="93"/>
<rect x="804" y="273" width="5" height="84"/>
<rect x="814" y="320" width="1" height="58"/>
<rect x="812" y="356" width="5" height="19"/>
<rect x="822" y="358" width="1" height="43"/>
<rect x="820" y="362" width="5" height="13"/>
<rect x="821" y="363" width="3" height="11" fill="#fff"/>
<rect x="830" y="348" width="1" height="18"/>
<rect x="828" y="353" width="5" height="9"/>
<rect x="829" y="354" width="3" height="7" fill="#fff"/>
<rect x="838" y="338" width="1" height="26"/>
<rect x="836" y="346" width="5" height="6"/>
<rect x="837" y="347" width="3" height="4" fill="#fff"/>
<rect x="846" y="335" width="1" height="29"/>
<rect x="844" y="345" width="5" height="1"/>
<rect x="854" y="324" width="1" height="28"/>
<rect x="852" y="334" width="5" height="11"/>
<rect x="853" y="335" width="3" height="9" fill="#fff"/>
<rect x="862" y="290" width="1" height="46"/>
<rect x="860" y="297" width="5" height="37"/>
<rect x="861" y="298" width="3" height="35" fill="#fff"/>
<rect x="870" y="242" width="1" height="55"/>
<rect x="868" y="265" width="5" height="32"/>
<rect x="869" y="266" width="3" height="30" fill="#fff"/>
<rect x="878" y="226" width="1" height="39"/>
<rect x="876" y="228" width="5" height="37"/>
<rect x="877" y="229" width="3" height="35" fill="#fff"/>
<rect x="886" y="210" width="1" height="14"/>
<rect x="884" y="214" width="5" height="3"/>
<rect x="885" y="215" width="3" height="1" fill="#fff"/>
<rect x="894" y="209" width="1" height="25"/>
<rect x="892" y="214" width="5" height="17"/>
<rect x="902" y="217" width="1" height="40"/>
<rect x="900" y="230" width="5" height="20"/>
<rect x="910" y="242" width="1" height="30"/>
<rect x="908" y="250" width="5" height="11"/>
<rect x="918" y="202" width="1" height="66"/>
<rect x="916" y="210" width="5" height="51"/>
<rect x="917" y="211" width="3" height="49" fill="#fff"/>
<rect x="926" y="209" width="1" height="16"/>
<rect x="924" y="210" width="5" height="5"/>
<rect x="934" y="210" width="1" height="6"/>
<rect x="932" y="213" width="5" height="2"/>
<rect x="942" y="192" width="1" height="24"/>
<rect x="940" y="198" width="5" height="15"/>
<rect x="941" y="199" width="3" height="13" fill="#fff"/>
<rect x="950" y="194" width="1" height="36"/>
<rect x="948" y="198" width="5" height="30"/>
<rect x="958" y="225" width="1" height="37"/>
<rect x="956" y="227" width="5" height="27"/>
<rect x="966" y="240" width="1" height="32"/>
<rect x="964" y="242" width="5" height="12"/>
<rect x="965" y="243" width="3" height="10" fill="#fff"/>
<rect x="974" y="231" width="1" height="19"/>
<rect x="972" y="242" width="5" height="5"/>
<rect x="982" y="239" width="1" height="14"/>
<rect x="980" y="246" width="5" height="6"/>
<rect x="990" y="238" width="1" height="19"/>
<rect x="988" y="250" width="5" height="2"/>
<rect x="998" y="221" width="1" height="37"/>
<rect x="996" y="234" width="5" height="16"/>
<rect x="997" y="235" width="3" height="14" fill="#fff"/>
<rect x="1006" y="206" width="1" height="34"/>
<rect x="1004" y="221" width="5" height="14"/>
<rect x="1005" y="222" width="3" height="12" fill="#fff"/>
<rect x="1014" y="216" width="1" height="57"/>
<rect x="1012" y="221" width="5" height="50"/>
<rect x="1022" y="265" width="1" height="13"/>
<rect x="1020" y="270" width="5" height="4"/>
<rect x="1030" y="268" width="1" height="11"/>
<rect x="1028" y="271" width="5" height="3"/>
<rect x="1029" y="272" width="3" height="1" fill="#fff"/>
<rect x="1038" y="269" width="1" height="45"/>
<rect x="1036" y="271" width="5" height="34"/>
<rect x="1046" y="278" width="1" height="54"/>
<rect x="1044" y="304" width="5" height="23"/>
<rect x="1054" y="242" width="1" height="89"/>
<rect x="1052" y="260" width="5" height="66"/>
<rect x="1053" y="261" width="3" height="64" fill="#fff"/>
<rect x="1062" y="254" width="1" height="42"/>
<rect x="1060" y="259" width="5" height="14"/>
<rect x="1070" y="270" width="1" height="62"/>
<rect x="1068" y="272" width="5" height="47"/>
<rect x="1078" y="307" width="1" height="16"/>
<rect x="1076" y="316" width="5" height="4"/>
<rect x="1077" y="317" width="3" height="2" fill="#fff"/>
<rect x="1086" y="286" width="1" height="34"/>
<rect x="1084" y="290" width="5" height="27"/>
<rect x="1085" y="291" width="3" height="25" fill="#fff"/>
<rect x="1094" y="282" width="1" height="34"/>
<rect x="1092" y="290" width="5" height="3"/>
<rect x="1102" y="257" width="1" height="43"/>
<rect x="1100" y="287" width="5" height="5"/>
<rect x="1101" y="288" width="3" height="3" fill="#fff"/>
<rect x="1110" y="267" width="1" height="59"/>
<rect x="1108" y="287" width="5" height="31"/>
<rect x="1118" y="313" width="1" height="25"/>
<rect x="1116" y="317" width="5" height="19"/>
<rect x="1126" y="347" width="1" height="18"/>
<rect x="1124" y="349" width="5" height="11"/>
<rect x="1134" y="354" width="1" height="19"/>
<rect x="1132" y="357" width="5" height="3"/>
<rect x="1133" y="358" width="3" height="1" fill="#fff"/>
<rect x="1142" y="354" width="1" height="48"/>
<rect x="1140" y="357" width="5" height="39"/>
<rect x="1150" y="381" width="1" height="54"/>
<rect x="1148" y="395" width="5" height="26"/>
<rect x="1158" y="420" width="1" height="80"/>
<rect x="1156" y="420" width="5" height="42"/>
<rect x="1166" y="460" width="1" height="32"/>
<rect x="1164" y="461" width="5" height="17"/>
<rect x="1174" y="467" width="1" height="15"/>
<rect x="1172" y="471" width="5" height="7"/>
<rect x="1173" y="472" width="3" height="5" fill="#fff"/>
<rect x="1182" y="452" width="1" height="31"/>
<rect x="1180" y="471" width="5" height="9"/>
<rect x="1190" y="467" width="1" height="36"/>
<rect x="1188" y="479" width="5" height="8"/>
<rect x="1198" y="452" width="1" height="76"/>
<rect x="1196" y="486" width="5" height="16"/>
<rect x="1206" y="472" width="1" height="92"/>
<rect x="1204" y="478" width="5" height="24"/>
<rect x="1205" y="479" width="3" height="22" fill="#fff"/>
<rect x="1214" y="463" width="1" height="20"/>
<rect x="1212" y="472" width="5" height="5"/>
<rect x="1213" y="473" width="3" height="3" fill="#fff"/>
<rect x="1222" y="459" width="1" height="19"/>
<rect x="1220" y="460" width="5" height="12"/>
<rect x="1221" y="461" width="3" height="10" fill="#fff"/>
<rect x="1230" y="452" width="1" height="36"/>
<rect x="1228" y="459" width="5" height="16"/>
<rect x="1238" y="453" width="1" height="50"/>
<rect x="1236" y="463" width="5" height="12"/>
<rect x="1237" y="464" width="3" height="10" fill="#fff"/>
<rect x="1246" y="439" width="1" height="37"/>
<rect x="1244" y="456" width="5" height="8"/>
<rect x="1245" y="457" width="3" height="6" fill="#fff"/>
<rect x="1254" y="375" width="1" height="79"/>
<rect x="1252" y="381" width="5" height="73"/>
<rect x="1253" y="382" width="3" height="71" fill="#fff"/>
<rect x="1262" y="350" width="1" height="35"/>
<rect x="1260" y="357" width="5" height="24"/>
<rect x="1261" y="358" width="3" height="22" fill="#fff"/>
<rect x="1270" y="353" width="1" height="13"/>
<rect x="1268" y="356" width="5" height="8"/>
<rect x="1278" y="362" width="1" height="34"/>
<rect x="1276" y="363" width="5" height="15"/>
<rect x="1286" y="324" width="1" height="54"/>
<rect x="1284" y="341" width="5" height="37"/>
<rect x="1285" y="342" width="3" height="35" fill="#fff"/>
<rect x="1294" y="309" width="1" height="47"/>
<rect x="1292" y="312" width="5" height="29"/>
<rect x="1293" y="313" width="3" height="27" fill="#fff"/>
<rect x="1302" y="311" width="1" height="40"/>
<rect x="1300" y="312" width="5" height="37"/>
<rect x="1310" y="314" width="1" height="44"/>
<rect x="1308" y="330" width="5" height="18"/>
<rect x="1309" y="331" width="3" height="16" fill="#fff"/>
<rect x="1318" y="324" width="1" height="15"/>
<rect x="1316" y="324" width="5" height="6"/>
<rect x="1317" y="325" width="3" height="4" fill="#fff"/>
<rect x="1326" y="316" width="1" height="14"/>
<rect x="1324" y="322" width="5" height="3"/>
<rect x="1325" y="323" width="3" height="1" fill="#fff"/>
<rect x="1334" y="317" width="1" height="19"/>
<rect x="1332" y="321" width="5" height="9"/>
<rect x="1342" y="315" width="1" height="21"/>
<rect x="1340" y="316" width="5" height="13"/>
<rect x="1341" y="317" width="3" height="11" fill="#fff"/>
<rect x="1350" y="290" width="1" height="26"/>
<rect x="1348" y="306" width="5" height="10"/>
<rect x="1349" y="307" width="3" height="8" fill="#fff"/>
<rect x="1358" y="292" width="1" height="16"/>
<rect x="1356" y="298" width="5" height="9"/>
<rect x="1357" y="299" width="3" height="7" fill="#fff"/>
<rect x="1366" y="293" width="1" height="6"/>
<rect x="1364" y="294" width="5" height="2"/>
<rect x="1374" y="296" width="1" height="36"/>
<rect x="1372" y="297" width="5" height="29"/>
<rect x="1382" y="316" width="1" height="28"/>
<rect x="1380" y="325" width="5" height="7"/>
<rect x="1390" y="284" width="1" height="62"/>
<rect x="1388" y="292" width="5" height="38"/>
<rect x="1389" y="293" width="3" height="36" fill="#fff"/>
<rect x="1398" y="260" width="1" height="45"/>
<rect x="1396" y="261" width="5" height="31"/>
<rect x="1397" y="262" width="3" height="29" fill="#fff"/>
<rect x="1406" y="258" width="1" height="12"/>
<rect x="1404" y="260" width="5" height="1"/>
<rect x="1414" y="258" width="1" height="8"/>
<rect x="1412" y="260" width="5" height="4"/></g><g fill="#c0c0c0" shape-rendering="crispEdges"><rect x="6" y="634" width="1" height="3"/>
<rect x="14" y="635" width="1" height="2"/>
<rect x="22" y="636" width="1" height="1"/>
<rect x="30" y="635" width="1" height="2"/>
<rect x="38" y="634" width="1" height="3"/>
<rect x="46" y="633" width="1" height="4"/>
<rect x="54" y="633" width="1" height="4"/>
<rect x="62" y="636" width="1" height="1"/>
<rect x="86" y="637" width="1" height="5"/>
<rect x="94" y="637" width="1" height="10"/>
<rect x="102" y="637" width="1" height="24"/>
<rect x="110" y="637" width="1" height="34"/>
<rect x="118" y="637" width="1" height="38"/>
<rect x="126" y="637" width="1" height="45"/>
<rect x="134" y="637" width="1" height="56"/>
<rect x="142" y="637" width="1" height="63"/>
<rect x="150" y="637" width="1" height="75"/>
<rect x="158" y="637" width="1" height="83"/>
<rect x="166" y="637" width="1" height="89"/>
<rect x="174" y="637" width="1" height="101"/>
<rect x="182" y="637" width="1" height="101"/>
<rect x="190" y="637" width="1" height="94"/>
<rect x="198" y="637" width="1" height="81"/>
<rect x="206" y="637" width="1" height="68"/>
<rect x="214" y="637" width="1" height="56"/>
<rect x="222" y="637" width="1" height="47"/>
<rect x="230" y="637" width="1" height="41"/>
<rect x="238" y="637" width="1" height="34"/>
<rect x="246" y="637" width="1" height="22"/>
<rect x="254" y="637" width="1" height="11"/>
<rect x="262" y="637" width="1" height="1"/>
<rect x="270" y="634" width="1" height="3"/>
<rect x="278" y="621" width="1" height="16"/>
<rect x="286" y="613" width="1" height="24"/>
<rect x="294" y="606" width="1" height="31"/>
<rect x="302" y="602" width="1" height="35"/>
<rect x="310" y="597" width="1" height="40"/>
<rect x="318" y="595" width="1" height="42"/>
<rect x="326" y="596" width="1" height="41"/>
<rect x="334" y="603" width="1" height="34"/>
<rect x="342" y="609" width="1" height="28"/>
<rect x="350" y="611" width="1" height="26"/>
<rect x="358" y="614" width="1" height="23"/>
<rect x="366" y="616" width="1" height="21"/>
<rect x="374" y="622" width="1" height="15"/>
<rect x="382" y="628" width="1" height="9"/>
<rect x="390" y="632" width="1" height="5"/>
<rect x="406" y="637" width="1" height="1"/>
<rect x="414" y="637" width="1" height="7"/>
<rect x="422" y="637" width="1" height="6"/>
<rect x="430" y="637" width="1" height="6"/>
<rect x="438" y="637" width="1" height="11"/>
<rect x="446" y="637" width="1" height="15"/>
<rect x="454" y="637" width="1" height="19"/>
<rect x="462" y="637" width="1" height="24"/>
<rect x="470" y="637" width="1" height="26"/>
<rect x="478" y="637" width="1" height="32"/>
<rect x="486" y="637" width="1" height="35"/>
<rect x="494" y="637" width="1" height="37"/>
<rect x="502" y="637" width="1" height="39"/>
<rect x="510" y="637" width="1" height="39"/>
<rect x="518" y="637" width="1" height="41"/>
<rect x="526" y="637" width="1" height="38"/>
<rect x="534" y="637" width="1" height="34"/>
<rect x="542" y="637" width="1" height="28"/>
<rect x="550" y="637" width="1" height="22"/>
<rect x="558" y="637" width="1" height="19"/>
<rect x="566" y="637" width="1" height="14"/>
<rect x="574" y="637" width="1" height="8"/>
<rect x="582" y="637" width="1" height="5"/>
<rect x="590" y="637" width="1" height="6"/>
<rect x="598" y="637" width="1" height="6"/>
<rect x="606" y="637" width="1" height="5"/>
<rect x="614" y="637" width="1" height="5"/>
<rect x="622" y="637" width="1" height="9"/>
<rect x="630" y="637" width="1" height="8"/>
<rect x="638" y="637" width="1" height="6"/>
<rect x="646" y="637" width="1" height="3"/>
<rect x="654" y="637" width="1" height="3"/>
<rect x="662" y="637" width="1" height="2"/>
<rect x="670" y="637" width="1" height="1"/>
<rect x="678" y="637" width="1" height="1"/>
<rect x="686" y="637" width="1" height="1"/>
<rect x="694" y="637" width="1" height="1"/>
<rect x="702" y="634" width="1" height="3"/>
<rect x="710" y="634" width="1" height="3"/>
<rect x="726" y="637" width="1" height="10"/>
<rect x="734" y="637" width="1" height="18"/>
<rect x="742" y="637" width="1" height="23"/>
<rect x="750" y="637" width="1" height="27"/>
<rect x="758" y="637" width="1" height="30"/>
<rect x="766" y="637" width="1" height="28"/>
<rect x="774" y="637" width="1" height="31"/>
<rect x="782" y="637" width="1" height="32"/>
<rect x="790" y="637" width="1" height="33"/>
<rect x="798" y="637" width="1" height="36"/>
<rect x="806" y="637" width="1" height="49"/>
<rect x="814" y="637" width="1" height="62"/>
<rect x="822" y="637" width="1" height="69"/>
<rect x="830" y="637" width="1" height="73"/>
<rect x="838" y="637" width="1" height="74"/>
<rect x="846" y="637" width="1" height="74"/>
<rect x="854" y="637" width="1" height="71"/>
<rect x="862" y="637" width="1" height="64"/>
<rect x="870" y="637" width="1" height="52"/>
<rect x="878" y="637" width="1" height="38"/>
<rect x="886" y="637" width="1" height="24"/>
<rect x="894" y="637" width="1" height="15"/>
<rect x="902" y="637" width="1" height="10"/>
<rect x="910" y="637" width="1" height="8"/>
<rect x="918" y="637" width="1" height="1"/>
<rect x="926" y="631" width="1" height="6"/>
<rect x="934" y="626" width="1" height="11"/>
<rect x="942" y="620" width="1" height="17"/>
<rect x="950" y="620" width="1" height="17"/>
<rect x="958" y="624" width="1" height="13"/>
<rect x="966" y="625" width="1" height="12"/>
<rect x="974" y="627" width="1" height="10"/>
<rect x="982" y="629" width="1" height="8"/>
<rect x="990" y="631" width="1" height="6"/>
<rect x="998" y="630" width="1" height="7"/>
<rect x="1006" y="628" width="1" height="9"/>
<rect x="1014" y="633" width="1" height="4"/>
<rect x="1038" y="637" width="1" height="10"/>
<rect x="1046" y="637" width="1" height="17"/>
<rect x="1054" y="637" width="1" height="15"/>
<rect x="1062" y="637" width="1" height="15"/>
<rect x="1070" y="637" width="1" height="20"/>
<rect x="1078" y="637" width="1" height="25"/>
<rect x="1086" y="637" width="1" height="24"/>
<rect x="1094" y="637" width="1" height="24"/>
<rect x="1102" y="637" width="1" height="24"/>
<rect x="1110" y="637" width="1" height="25"/>
<rect x="1118" y="637" width="1" height="30"/>
<rect x="1126" y="637" width="1" height="36"/>
<rect x="1134" y="637" width="1" height="41"/>
<rect x="1142" y="637" width="1" height="49"/>
<rect x="1150" y="637" width="1" height="59"/>
<rect x="1158" y="637" width="1" height="71"/>
<rect x="1166" y="637" width="1" height="82"/>
<rect x="1174" y="637" width="1" height="89"/>
<rect x="1182" y="637" width="1" height="94"/>
<rect x="1190" y="637" width="1" height="99"/>
<rect x="1198" y="637" width="1" height="104"/>
<rect x="1206" y="637" width="1" height="103"/>
<rect x="1214" y="637" width="1" height="100"/>
<rect x="1222" y="637" width="1" height="94"/>
<rect x="1230" y="637" width="1" height="91"/>
<rect x="1238" y="637" width="1" height="87"/>
<rect x="1246" y="637" width="1" height="81"/>
<rect x="1254" y="637" width="1" height="64"/>
<rect x="1262" y="637" width="1" height="47"/>
<rect x="1270" y="637" width="1" height="35"/>
<rect x="1278" y="637" width="1" height="27"/>
<rect x="1286" y="637" width="1" height="15"/>
<rect x="1294" y="637" width="1" height="1"/>
<rect x="1302" y="634" width="1" height="3"/>
<rect x="1310" y="627" width="1" height="10"/>
<rect x="1318" y="621" width="1" height="16"/>
<rect x="1326" y="616" width="1" height="21"/>
<rect x="1334" y="613" width="1" height="24"/>
<rect x="1342" y="610" width="1" height="27"/>
<rect x="1350" y="606" width="1" height="31"/>
<rect x="1358" y="602" width="1" height="35"/>
<rect x="1366" y="600" width="1" height="37"/>
<rect x="1374" y="602" width="1" height="35"/>
<rect x="1382" y="603" width="1" height="34"/>
<rect x="1390" y="600" width="1" height="37"/>
<rect x="1398" y="596" width="1" height="41"/>
<rect x="1406" y="592" width="1" height="45"/>
<rect x="1414" y="589" width="1" height="48"/></g><polyline points="0.0,636.5 6.0,635.5 12.0,634.5 18.0,633.9 24.0,633.4 30.0,632.4 54.0,632.4 60.0,633.2 66.0,633.4 72.0,634.5 82.6,634.7 89.6,635.3 95.3,636.3 101.7,639.2 113.2,645.5 119.6,649.4 125.3,653.8 137.5,664.0 149.6,675.6 155.4,682.0 166.8,694.0 177.0,705.0 183.4,711.0 189.8,715.8 196.2,719.0 202.6,720.9 212.8,721.5 219.2,718.3 230.7,712.6 237.1,708.1 248.6,696.0 258.8,682.6 262.5,677.8 270.5,668.7 278.5,659.6 286.5,650.6 294.5,641.8 302.5,633.2 310.5,624.6 318.5,616.7 326.5,611.4 334.5,607.7 342.5,604.6 350.5,603.7 358.5,604.0 366.5,604.8 374.5,607.4 382.5,611.6 390.5,616.0 398.5,619.3 406.5,622.7 414.5,626.6 422.5,630.3 430.5,633.8 438.5,637.4 446.5,641.0 454.5,644.2 462.5,647.4 470.5,650.4 478.5,653.6 486.5,656.8 494.5,660.1 502.5,663.5 510.5,666.5 518.5,669.5 526.5,671.7 534.5,672.8 542.5,672.8 550.5,671.4 558.5,669.3 566.5,666.8 574.5,663.8 582.5,660.1 590.5,656.4 598.5,652.8 606.5,649.9 614.5,647.3 622.5,645.4 630.5,644.4 638.5,643.7 646.5,643.2 654.5,642.7 662.5,642.0 670.5,641.3 678.5,640.7 686.5,640.0 694.5,639.2 702.5,638.3 710.5,637.5 718.5,637.4 726.5,638.4 734.5,639.9 742.5,641.7 750.5,644.4 758.5,647.5 766.5,650.4 774.5,654.1 782.5,658.0 790.5,661.8 798.5,665.3 806.5,669.2 814.5,673.6 822.5,678.4 830.5,683.3 838.5,688.3 846.5,693.1 854.5,697.7 862.5,700.9 870.5,701.7 878.5,699.8 886.5,695.5 894.5,689.3 902.5,682.6 910.5,675.5 918.5,667.5 926.5,659.2 934.5,651.2 942.5,644.4 950.5,638.4 958.5,633.5 966.5,630.9 974.5,628.8 982.5,626.8 990.5,626.2 998.5,625.9 1006.5,625.8 1014.5,627.3 1022.5,629.1 1030.5,630.7 1038.5,633.2 1046.5,636.2 1054.5,638.9 1062.5,641.7 1070.5,645.0 1078.5,648.7 1086.5,651.5 1094.5,654.0 1102.5,656.3 1110.5,658.4 1118.5,660.4 1126.5,662.9 1134.5,665.9 1142.5,669.3 1150.5,672.9 1158.5,678.2 1166.5,685.5 1174.5,693.1 1182.5,700.9 1190.5,708.3 1198.5,715.7 1206.5,722.3 1214.5,726.7 1222.5,730.1 1230.5,732.3 1238.5,732.6 1246.5,731.6 1254.5,728.3 1262.5,723.0 1270.5,716.2 1278.5,707.1 1286.5,697.6 1294.5,687.6 1302.5,676.7 1310.5,665.8 1318.5,654.8 1326.5,645.7 1334.5,637.9 1342.5,631.2 1350.5,624.4 1358.5,618.5 1366.5,614.0 1374.5,610.1 1382.5,607.0 1390.5,604.6 1398.5,602.5 1406.5,600.5 1414.5,598.3" fill="none" stroke="#ff0000" stroke-width="1" stroke-dasharray="3,3"/><line x1="0" y1="787.5" x2="1656" y2="787.5" stroke="#c0c0c0" stroke-width="1" stroke-dasharray="3,3"/>
<line x1="0" y1="838.5" x2="1656" y2="838.5" stroke="#c0c0c0" stroke-width="1" stroke-dasharray="3,3"/>
<line x1="0" y1="899.5" x2="1656" y2="899.5" stroke="#c0c0c0" stroke-width="1" stroke-dasharray="3,3"/>
<polyline points="-1.5,849.9 6.5,839.3 14.5,840.5 22.5,838.3 30.5,836.3 38.5,831.4 46.5,831.4 54.5,838.8 62.5,845.0 70.5,841.2 78.5,842.5 86.5,856.5 94.5,860.5 102.5,881.9 110.5,880.2 118.5,867.9 126.5,872.8 134.5,883.2 142.5,877.0 150.5,885.1 158.5,885.1 166.5,883.2 174.5,891.1 182.5,869.6 190.5,854.8 198.5,842.5 206.5,836.8 214.5,836.3 222.5,837.5 230.5,842.5 238.5,837.5 246.5,827.7 254.5,824.0 262.5,823.5 270.5,825.2 278.5,813.6 286.5,816.1 294.5,815.4 302.5,817.1 310.5,814.6 318.5,819.0 326.5,822.7 334.5,840.0 342.5,838.3 350.5,832.6 358.5,835.8 366.5,834.3 374.5,844.2 382.5,849.1 390.5,844.9 398.5,849.9 406.5,844.2 414.5,853.6 422.5,839.3 430.5,839.3 438.5,851.6 446.5,855.5 454.5,853.6 462.5,859.0 470.5,854.8 478.5,863.4 486.5,860.5 494.5,858.5 502.5,860.5 510.5,858.5 518.5,861.5 526.5,848.6 534.5,846.9 542.5,835.6 550.5,834.3 558.5,840.0 566.5,832.6 574.5,827.7 582.5,835.1 590.5,842.5 598.5,841.2 606.5,837.5 614.5,840.8 622.5,853.1 630.5,840.8 638.5,836.3 646.5,833.8 654.5,838.3 662.5,838.3 670.5,838.3 678.5,836.3 686.5,835.1 694.5,835.1 702.5,825.2 710.5,837.5 718.5,848.6 726.5,868.4 734.5,867.1 742.5,866.4 750.5,867.1 758.5,864.7 766.5,846.7 774.5,861.5 782.5,858.0 790.5,857.3 798.5,863.9 806.5,883.2 814.5,886.1 822.5,880.7 830.5,875.8 838.5,871.6 846.5,871.3 854.5,864.7 862.5,847.4 870.5,834.3 878.5,824.0 886.5,820.3 894.5,826.0 902.5,834.3 910.5,836.8 918.5,822.3 926.5,824.0 934.5,824.0 942.5,819.5 950.5,830.1 958.5,841.2 966.5,837.5 974.5,838.3 982.5,840.0 990.5,839.3 998.5,833.8 1006.5,828.4 1014.5,847.4 1022.5,848.6 1030.5,847.4 1038.5,858.0 1046.5,863.9 1054.5,838.3 1062.5,842.5 1070.5,855.5 1078.5,854.1 1086.5,844.9 1094.5,846.2 1102.5,844.2 1110.5,853.1 1118.5,857.3 1126.5,863.4 1134.5,862.2 1142.5,870.8 1150.5,875.3 1158.5,882.7 1166.5,884.4 1174.5,882.7 1182.5,883.2 1190.5,884.4 1198.5,886.1 1206.5,874.5 1214.5,872.1 1222.5,865.2 1230.5,869.6 1238.5,862.2 1246.5,858.5 1254.5,831.4 1262.5,825.2 1270.5,826.4 1278.5,832.6 1286.5,822.7 1294.5,815.4 1302.5,828.4 1310.5,824.0 1318.5,822.0 1326.5,821.5 1334.5,825.2 1342.5,821.5 1350.5,817.8 1358.5,816.6 1366.5,815.4 1374.5,828.9 1382.5,831.4 1390.5,819.5 1398.5,811.7 1406.5,810.4 1414.5,812.9" fill="none" stroke="#1e90ff" stroke-width="1" shape-rendering="crispEdges"/><rect x="103.5" y="344.5" width="61" height="18" fill="#fff" stroke="#ff0000" stroke-width="1"/>
<text x="134.0" y="360" font-size="16" fill="#ff0000" text-anchor="middle" textLength="55" lengthAdjust="spacingAndGlyphs">151.291</text>
<rect x="165" y="354" width="10" height="1" fill="#ff0000"/>
<rect x="751.5" y="392.5" width="61" height="18" fill="#fff" stroke="#ff0000" stroke-width="1"/>
<text x="782.0" y="408" font-size="16" fill="#ff0000" text-anchor="middle" textLength="55" lengthAdjust="spacingAndGlyphs">150.646</text>
<rect x="813" y="402" width="10" height="1" fill="#ff0000"/>
<rect x="871.5" y="180.5" width="61" height="18" fill="#fff" stroke="#ff0000" stroke-width="1"/>
<text x="902.0" y="196" font-size="16" fill="#ff0000" text-anchor="middle" textLength="55" lengthAdjust="spacingAndGlyphs">153.507</text>
<rect x="933" y="190" width="10" height="1" fill="#ff0000"/><rect x="933.5" y="188.5" width="2" height="3" fill="#fff" stroke="#ff0000" stroke-width="1"/>
<rect x="1135.5" y="554.5" width="61" height="18" fill="#fff" stroke="#ff0000" stroke-width="1"/>
<text x="1166.0" y="570" font-size="16" fill="#ff0000" text-anchor="middle" textLength="55" lengthAdjust="spacingAndGlyphs">148.448</text>
<rect x="1197" y="563" width="10" height="1" fill="#ff0000"/>
<rect x="1233.5" y="264.5" width="73" height="24" fill="#fff" stroke="#ff0000" stroke-width="1"/>
<text x="1235.5" y="285" font-size="22" fill="#ff0000" stroke="#ff0000" stroke-width="0.45" textLength="69.4" lengthAdjust="spacingAndGlyphs">152.332</text>
<rect x="1222" y="276" width="8" height="1" fill="#ff0000"/><rect x="1230.5" y="274.5" width="2" height="3" fill="#fff" stroke="#ff0000" stroke-width="1"/>
<rect x="1527.5" y="261.5" width="110" height="24" fill="none" stroke="#404040" stroke-width="1"/>
<path transform="translate(1528.50,263.20) scale(1.850)" d="M5,0.3 L1.8,3.2 M3.4,1.8 H7.6 L2.6,6.2 M3.2,3.2 L5,4.4 M6.8,4.4 L1.8,8.6 M4.4,6 H9.2 L1.4,10 M4.2,7.3 L6,8.4" fill="none" stroke="#00ff00" stroke-width="0.730" stroke-linecap="square"/>
<path transform="translate(1550.50,263.20) scale(1.850)" d="M5,0 L5.3,1 M0.9,2.6 V1.3 H9.1 V2.6 M3.9,2.6 L2,4.6 M6.1,2.6 L8,4.6 M2,5.6 H8 M5,5.6 V9.5 M0.7,9.5 H9.3" fill="none" stroke="#00ff00" stroke-width="0.730" stroke-linecap="square"/>
<path transform="translate(1572.50,263.20) scale(1.850)" d="M0.3,2 H4.3 M2.3,0.2 L0.8,6 H4.3 M2.6,3.8 V10 M0.2,8.3 L4.5,7.2 M5.2,2 H9.8 M7.8,0.2 L6.5,5.6 M5,4 H10 M6.5,5.6 H9.3 L7.4,8 M7,8.2 L9,9.8" fill="none" stroke="#00ff00" stroke-width="0.730" stroke-linecap="square"/>
<path transform="translate(1594.50,263.20) scale(1.850)" d="M0.3,3 H4 M2.3,0.2 V9.4 Q2.3,10 1.2,9.7 M0.3,7.3 L4,5.6 M9.6,0.5 L5.8,1.6 M5.8,1.6 V5.5 Q5.7,8.5 4.7,10 M5.8,4.5 H10 M8,4.5 V10" fill="none" stroke="#00ff00" stroke-width="0.730" stroke-linecap="square"/>
<path transform="translate(1616.50,263.20) scale(1.850)" d="M4.4,0.1 V4 M4.4,1.9 H8 M1.8,4 H8.2 V7 H1.8 Z M1.1,8.5 L0.3,9.9 M3.3,8.5 L3.7,9.9 M5.9,8.5 L6.3,9.9 M8.5,8.5 L9.5,9.9" fill="none" stroke="#00ff00" stroke-width="0.730" stroke-linecap="square"/>
<rect x="1580.5" y="258.5" width="3" height="3" fill="none" stroke="#00e000" stroke-width="1"/>
<rect x="1527" y="275.5" width="1.5" height="1.5" fill="#ff00ff"/><rect x="1637" y="275.5" width="1.5" height="1.5" fill="#ff00ff"/>
<polygon points="1418,25 1427,25 1422.5,29.5" fill="#a0a0a0"/>
<g shape-rendering="crispEdges"><line x1="1206" y1="558" x2="1424.6" y2="254.1" stroke="#ff0000" stroke-width="2.8"/><polygon points="1429.0,248.0 1426.8,259.3 1423.7,255.3 1419.0,253.7" fill="#ff0000"/></g>
<g shape-rendering="crispEdges"><line x1="1308" y1="634.7" x2="1430.0" y2="590.0" stroke="#ff0000" stroke-width="2.8"/><polygon points="1437.0,587.4 1428.8,595.5 1428.6,590.5 1425.5,586.5" fill="#ff0000"/></g>
<g shape-rendering="crispEdges"><line x1="1277" y1="821.5" x2="1425.1" y2="809.8" stroke="#ff0000" stroke-width="2.8"/><polygon points="1432.6,809.2 1422.5,814.8 1423.6,809.9 1421.8,805.2" fill="#ff0000"/></g>
<rect x="1330" y="272" width="152" height="8" fill="#00e600"/><rect x="0" y="24" width="1656" height="1" fill="#000"/>
<rect x="1656" y="24" width="1" height="554" fill="#000"/>
<rect x="0" y="577" width="1657" height="1" fill="#000"/>
<rect x="0" y="579" width="1656" height="1" fill="#000"/>
<rect x="1656" y="579" width="1" height="171" fill="#000"/>
<rect x="0" y="749" width="1657" height="1" fill="#000"/>
<rect x="0" y="751" width="1656" height="1" fill="#000"/>
<rect x="1656" y="751" width="1" height="175" fill="#000"/>
<rect x="0" y="925" width="1657" height="1" fill="#000"/>
<rect x="1702" y="21" width="1" height="919" fill="#d8d8d8"/><rect x="1656" y="46" width="3" height="1" fill="#000"/>
<text x="1662" y="50" font-size="9.8" stroke="#000" stroke-width="0.15" textLength="32" lengthAdjust="spacingAndGlyphs">155.440</text>
<rect x="1656" y="79" width="3" height="1" fill="#000"/>
<text x="1662" y="83" font-size="9.8" stroke="#000" stroke-width="0.15" textLength="32" lengthAdjust="spacingAndGlyphs">154.990</text>
<rect x="1656" y="112" width="3" height="1" fill="#000"/>
<text x="1662" y="116" font-size="9.8" stroke="#000" stroke-width="0.15" textLength="32" lengthAdjust="spacingAndGlyphs">154.550</text>
<rect x="1656" y="145" width="3" height="1" fill="#000"/>
<text x="1662" y="149" font-size="9.8" stroke="#000" stroke-width="0.15" textLength="32" lengthAdjust="spacingAndGlyphs">154.100</text>
<rect x="1656" y="178" width="3" height="1" fill="#000"/>
<text x="1662" y="182" font-size="9.8" stroke="#000" stroke-width="0.15" textLength="32" lengthAdjust="spacingAndGlyphs">153.660</text>
<rect x="1656" y="211" width="3" height="1" fill="#000"/>
<rect x="1656" y="244" width="3" height="1" fill="#000"/>
<text x="1662" y="248" font-size="9.8" stroke="#000" stroke-width="0.15" textLength="32" lengthAdjust="spacingAndGlyphs">152.760</text>
<rect x="1656" y="277" width="3" height="1" fill="#000"/>
<rect x="1656" y="310" width="3" height="1" fill="#000"/>
<text x="1662" y="314" font-size="9.8" stroke="#000" stroke-width="0.15" textLength="32" lengthAdjust="spacingAndGlyphs">151.870</text>
<rect x="1656" y="343" width="3" height="1" fill="#000"/>
<text x="1662" y="347" font-size="9.8" stroke="#000" stroke-width="0.15" textLength="32" lengthAdjust="spacingAndGlyphs">151.430</text>
<rect x="1656" y="376" width="3" height="1" fill="#000"/>
<text x="1662" y="380" font-size="9.8" stroke="#000" stroke-width="0.15" textLength="32" lengthAdjust="spacingAndGlyphs">150.980</text>
<rect x="1656" y="409" width="3" height="1" fill="#000"/>
<text x="1662" y="413" font-size="9.8" stroke="#000" stroke-width="0.15" textLength="32" lengthAdjust="spacingAndGlyphs">150.530</text>
<rect x="1656" y="442" width="3" height="1" fill="#000"/>
<text x="1662" y="446" font-size="9.8" stroke="#000" stroke-width="0.15" textLength="32" lengthAdjust="spacingAndGlyphs">150.090</text>
<rect x="1656" y="475" width="3" height="1" fill="#000"/>
<text x="1662" y="479" font-size="9.8" stroke="#000" stroke-width="0.15" textLength="32" lengthAdjust="spacingAndGlyphs">149.640</text>
<rect x="1656" y="508" width="3" height="1" fill="#000"/>
<text x="1662" y="512" font-size="9.8" stroke="#000" stroke-width="0.15" textLength="32" lengthAdjust="spacingAndGlyphs">149.190</text>
<rect x="1656" y="541" width="3" height="1" fill="#000"/>
<text x="1662" y="545" font-size="9.8" stroke="#000" stroke-width="0.15" textLength="32" lengthAdjust="spacingAndGlyphs">148.750</text>
<rect x="1656" y="574" width="3" height="1" fill="#000"/>
<text x="1662" y="578" font-size="9.8" stroke="#000" stroke-width="0.15" textLength="32" lengthAdjust="spacingAndGlyphs">148.300</text><rect x="1658" y="258" width="41" height="11" fill="#000"/>
<text x="1662" y="267" font-size="9.8" fill="#fff" stroke="#fff" stroke-width="0.2" textLength="32" lengthAdjust="spacingAndGlyphs">152.504</text>
<rect x="1658" y="206" width="41" height="11" fill="#ff0000"/>
<text x="1662" y="215" font-size="9.8" fill="#fff" stroke="#fff" stroke-width="0.2" textLength="32" lengthAdjust="spacingAndGlyphs">153.196</text>
<rect x="1658" y="233" width="41" height="11" fill="#ff0000"/>
<text x="1662" y="242" font-size="9.8" fill="#fff" stroke="#fff" stroke-width="0.2" textLength="32" lengthAdjust="spacingAndGlyphs">152.832</text>
<rect x="1658" y="270" width="41" height="11" fill="#3cc83c"/>
<text x="1662" y="279" font-size="9.8" fill="#fff" stroke="#fff" stroke-width="0.2" textLength="32" lengthAdjust="spacingAndGlyphs">152.332</text>
<rect x="1658" y="289" width="41" height="11" fill="#0000ff"/>
<text x="1662" y="298" font-size="9.8" fill="#fff" stroke="#fff" stroke-width="0.2" textLength="32" lengthAdjust="spacingAndGlyphs">152.076</text>
<rect x="1658" y="308" width="41" height="11" fill="#0000ff"/>
<text x="1662" y="317" font-size="9.8" fill="#fff" stroke="#fff" stroke-width="0.2" textLength="32" lengthAdjust="spacingAndGlyphs">151.820</text><text x="1660" y="591" font-size="9.8" stroke="#000" stroke-width="0.15">0.4362</text>
<text x="1660" y="641" font-size="9.8" stroke="#000" stroke-width="0.15">0.00</text>
<text x="1660" y="747" font-size="9.8" stroke="#000" stroke-width="0.15">-0.8505</text>
<text x="1660" y="762" font-size="9.8" stroke="#000" stroke-width="0.15">100</text>
<rect x="1656" y="787" width="3" height="1" fill="#000"/>
<text x="1660" y="791" font-size="9.8" stroke="#000" stroke-width="0.15">80</text>
<rect x="1656" y="838" width="3" height="1" fill="#000"/>
<text x="1660" y="842" font-size="9.8" stroke="#000" stroke-width="0.15">50</text>
<rect x="1656" y="899" width="3" height="1" fill="#000"/>
<text x="1660" y="903" font-size="9.8" stroke="#000" stroke-width="0.15">15</text>
<text x="1660" y="922" font-size="9.8" stroke="#000" stroke-width="0.15">0</text>
<rect x="1656" y="637" width="3" height="1" fill="#000"/><text x="-3.5" y="938" font-size="9.8" stroke="#000" stroke-width="0.15" textLength="49.4" lengthAdjust="spacingAndGlyphs">15 Jun 2021</text>
<rect x="62" y="926" width="1" height="3" fill="#000"/>
<text x="62" y="938" font-size="9.8" stroke="#000" stroke-width="0.15" textLength="51.4" lengthAdjust="spacingAndGlyphs">16 Jun 16:00</text>
<rect x="126" y="926" width="1" height="3" fill="#000"/>
<text x="126" y="938" font-size="9.8" stroke="#000" stroke-width="0.15" textLength="51.4" lengthAdjust="spacingAndGlyphs">18 Jun 00:00</text>
<rect x="190" y="926" width="1" height="3" fill="#000"/>
<text x="190" y="938" font-size="9.8" stroke="#000" stroke-width="0.15" textLength="51.4" lengthAdjust="spacingAndGlyphs">21 Jun 08:00</text>
<rect x="254" y="926" width="1" height="3" fill="#000"/>
<text x="254" y="938" font-size="9.8" stroke="#000" stroke-width="0.15" textLength="51.4" lengthAdjust="spacingAndGlyphs">22 Jun 16:00</text>
<rect x="318" y="926" width="1" height="3" fill="#000"/>
<text x="318" y="938" font-size="9.8" stroke="#000" stroke-width="0.15" textLength="51.4" lengthAdjust="spacingAndGlyphs">24 Jun 00:00</text>
<rect x="382" y="926" width="1" height="3" fill="#000"/>
<text x="382" y="938" font-size="9.8" stroke="#000" stroke-width="0.15" textLength="51.4" lengthAdjust="spacingAndGlyphs">25 Jun 08:00</text>
<rect x="446" y="926" width="1" height="3" fill="#000"/>
<text x="446" y="938" font-size="9.8" stroke="#000" stroke-width="0.15" textLength="51.4" lengthAdjust="spacingAndGlyphs">28 Jun 16:00</text>
<rect x="510" y="926" width="1" height="3" fill="#000"/>
<text x="510" y="938" font-size="9.8" stroke="#000" stroke-width="0.15" textLength="51.4" lengthAdjust="spacingAndGlyphs">30 Jun 00:00</text>
<rect x="574" y="926" width="1" height="3" fill="#000"/>
<text x="574" y="938" font-size="9.8" stroke="#000" stroke-width="0.15" textLength="43.4" lengthAdjust="spacingAndGlyphs">1 Jul 08:00</text>
<rect x="638" y="926" width="1" height="3" fill="#000"/>
<text x="638" y="938" font-size="9.8" stroke="#000" stroke-width="0.15" textLength="43.4" lengthAdjust="spacingAndGlyphs">2 Jul 16:00</text>
<rect x="702" y="926" width="1" height="3" fill="#000"/>
<text x="702" y="938" font-size="9.8" stroke="#000" stroke-width="0.15" textLength="43.4" lengthAdjust="spacingAndGlyphs">6 Jul 00:00</text>
<rect x="766" y="926" width="1" height="3" fill="#000"/>
<text x="766" y="938" font-size="9.8" stroke="#000" stroke-width="0.15" textLength="43.4" lengthAdjust="spacingAndGlyphs">7 Jul 08:00</text>
<rect x="830" y="926" width="1" height="3" fill="#000"/>
<text x="830" y="938" font-size="9.8" stroke="#000" stroke-width="0.15" textLength="43.4" lengthAdjust="spacingAndGlyphs">8 Jul 16:00</text>
<rect x="894" y="926" width="1" height="3" fill="#000"/>
<text x="894" y="938" font-size="9.8" stroke="#000" stroke-width="0.15" textLength="48.4" lengthAdjust="spacingAndGlyphs">12 Jul 00:00</text>
<rect x="958" y="926" width="1" height="3" fill="#000"/>
<text x="958" y="938" font-size="9.8" stroke="#000" stroke-width="0.15" textLength="48.4" lengthAdjust="spacingAndGlyphs">13 Jul 08:00</text>
<rect x="1022" y="926" width="1" height="3" fill="#000"/>
<text x="1022" y="938" font-size="9.8" stroke="#000" stroke-width="0.15" textLength="48.4" lengthAdjust="spacingAndGlyphs">14 Jul 16:00</text>
<rect x="1086" y="926" width="1" height="3" fill="#000"/>
<text x="1086" y="938" font-size="9.8" stroke="#000" stroke-width="0.15" textLength="48.4" lengthAdjust="spacingAndGlyphs">16 Jul 00:00</text>
<rect x="1150" y="926" width="1" height="3" fill="#000"/>
<text x="1150" y="938" font-size="9.8" stroke="#000" stroke-width="0.15" textLength="48.4" lengthAdjust="spacingAndGlyphs">19 Jul 08:00</text>
<rect x="1214" y="926" width="1" height="3" fill="#000"/>
<text x="1214" y="938" font-size="9.8" stroke="#000" stroke-width="0.15" textLength="48.4" lengthAdjust="spacingAndGlyphs">20 Jul 16:00</text>
<rect x="1278" y="926" width="1" height="3" fill="#000"/>
<text x="1278" y="938" font-size="9.8" stroke="#000" stroke-width="0.15" textLength="48.4" lengthAdjust="spacingAndGlyphs">22 Jul 00:00</text>
<rect x="1342" y="926" width="1" height="3" fill="#000"/>
<text x="1342" y="938" font-size="9.8" stroke="#000" stroke-width="0.15" textLength="48.4" lengthAdjust="spacingAndGlyphs">23 Jul 08:00</text>
<rect x="1406" y="926" width="1" height="3" fill="#000"/>
<text x="1406" y="938" font-size="9.8" stroke="#000" stroke-width="0.15" textLength="48.4" lengthAdjust="spacingAndGlyphs">26 Jul 16:00</text><polygon points="1,35 8,35 4.5,31" fill="#000"/>
<text x="13" y="36" font-size="9.8" stroke="#000" stroke-width="0.15" textLength="53" lengthAdjust="spacingAndGlyphs">GBPJPY-,H4</text>
<text x="72.7" y="36" font-size="9.8" stroke="#000" stroke-width="0.15" textLength="32" lengthAdjust="spacingAndGlyphs">152.553</text>
<text x="108.6" y="36" font-size="9.8" stroke="#000" stroke-width="0.15" textLength="32" lengthAdjust="spacingAndGlyphs">152.572</text>
<text x="144.5" y="36" font-size="9.8" stroke="#000" stroke-width="0.15" textLength="32" lengthAdjust="spacingAndGlyphs">152.477</text>
<text x="180.6" y="36" font-size="9.8" stroke="#000" stroke-width="0.15" textLength="32" lengthAdjust="spacingAndGlyphs">152.504</text>
<text x="2" y="592" font-size="9.8" stroke="#000" stroke-width="0.15" textLength="127" lengthAdjust="spacingAndGlyphs">MACD(12,26,9) 0.3777 0.3004</text>
<text x="2" y="764" font-size="9.8" stroke="#000" stroke-width="0.15" textLength="68" lengthAdjust="spacingAndGlyphs">RSI(14) 65.0615</text><defs>
<linearGradient id="gtop" x1="0" y1="0" x2="0" y2="1"><stop offset="0" stop-color="#5c5cfa"/><stop offset="1" stop-color="#2a2ae0"/></linearGradient>
<linearGradient id="gbot" x1="0" y1="0" x2="0" y2="1"><stop offset="0" stop-color="#2a2ae0"/><stop offset="1" stop-color="#0000b4"/></linearGradient>
<linearGradient id="gbtn" x1="0" y1="0" x2="0" y2="1"><stop offset="0" stop-color="#f4f4f4"/><stop offset="1" stop-color="#cfcfcf"/></linearGradient>
</defs>
<rect x="0" y="42" width="222" height="61" fill="#fff"/>
<rect x="1" y="44" width="52" height="25" fill="#0000a8"/><rect x="1" y="68" width="110" height="33" fill="#0000a8"/>
<rect x="2" y="45" width="50" height="24" fill="url(#gtop)"/>
<rect x="2" y="69" width="108" height="31" fill="url(#gbot)"/>
<rect x="5" y="67" width="44" height="1" fill="#000080"/><rect x="5" y="68" width="44" height="1" fill="#7070ff"/>
<text x="13.5" y="60" font-size="12" fill="#fff" textLength="25.5" lengthAdjust="spacingAndGlyphs">SELL</text>
<text x="24.5" y="96" font-size="12" font-weight="bold" fill="#fff" textLength="20" lengthAdjust="spacingAndGlyphs">152</text>
<text x="50" y="96" font-size="33" fill="#fff" textLength="33" lengthAdjust="spacingAndGlyphs">50</text>
<text x="88" y="80" font-size="12" font-weight="bold" fill="#fff">4</text>
<rect x="168" y="44" width="53" height="25" fill="#0000a8"/><rect x="112" y="68" width="109" height="33" fill="#0000a8"/>
<rect x="169" y="45" width="51" height="24" fill="url(#gtop)"/>
<rect x="113" y="69" width="107" height="31" fill="url(#gbot)"/>
<rect x="172" y="67" width="44" height="1" fill="#000080"/><rect x="172" y="68" width="44" height="1" fill="#7070ff"/>
<text x="182.5" y="60" font-size="12" fill="#fff" textLength="23" lengthAdjust="spacingAndGlyphs">BUY</text>
<text x="134.5" y="96" font-size="12" font-weight="bold" fill="#fff" textLength="20" lengthAdjust="spacingAndGlyphs">152</text>
<text x="161" y="96" font-size="33" fill="#fff" textLength="33" lengthAdjust="spacingAndGlyphs">57</text>
<text x="199" y="80" font-size="12" font-weight="bold" fill="#fff">8</text>
<rect x="53" y="44" width="115" height="24" fill="#fff"/>
<rect x="55.5" y="44.5" width="111" height="21" fill="#fff" stroke="#a8a8a8" stroke-width="1"/>
<rect x="57" y="46" width="19" height="19" fill="url(#gbtn)"/>
<rect x="146" y="46" width="19" height="19" fill="url(#gbtn)"/>
<rect x="76" y="45" width="1" height="20" fill="#c8c8c8"/>
<rect x="145" y="45" width="1" height="20" fill="#c8c8c8"/>
<polygon points="63,53 68,53 65.5,56" fill="#5a6ec8"/>
<polygon points="153,57 158,57 155.5,54" fill="#5a6ec8"/>
<text x="141" y="60" font-size="12" fill="#000" text-anchor="end">1.00</text></svg></body></html>
